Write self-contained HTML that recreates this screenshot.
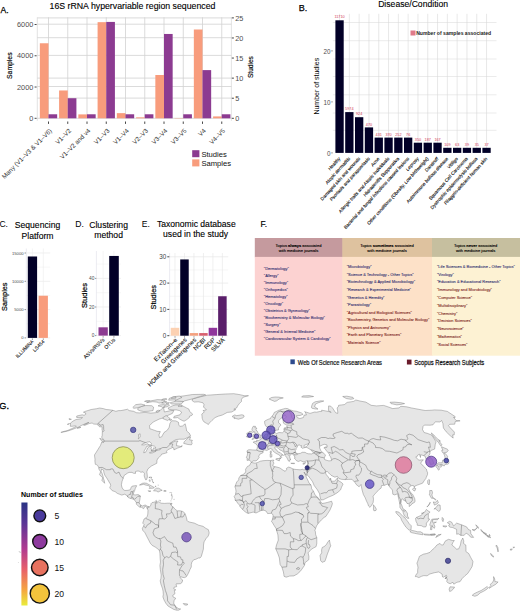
<!DOCTYPE html>
<html><head><meta charset="utf-8"><style>
html,body{margin:0;padding:0;background:#fff;}
svg{display:block;font-family:"Liberation Sans", sans-serif;}
</style></head><body>
<svg width="520" height="611" viewBox="0 0 520 611">
<rect width="520" height="611" fill="#fff"/>
<text x="0.60" y="12.90" font-size="8.6" fill="#000" text-anchor="start" font-weight="normal" stroke="#000" stroke-width="0.25">A.</text>
<text x="132.50" y="8.90" font-size="8.75" fill="#000" text-anchor="middle" font-weight="normal" stroke="#000" stroke-width="0.12">16S rRNA hypervariable region sequenced</text>
<line x1="37.30" y1="17.90" x2="231.40" y2="17.90" stroke="#d2d2d2" stroke-width="0.8" />
<line x1="37.30" y1="24.20" x2="231.40" y2="24.20" stroke="#d2d2d2" stroke-width="0.8" />
<line x1="37.30" y1="37.70" x2="231.40" y2="37.70" stroke="#d2d2d2" stroke-width="0.8" />
<line x1="37.30" y1="55.40" x2="231.40" y2="55.40" stroke="#d2d2d2" stroke-width="0.8" />
<line x1="37.30" y1="78.10" x2="231.40" y2="78.10" stroke="#d2d2d2" stroke-width="0.8" />
<line x1="37.30" y1="86.50" x2="231.40" y2="86.50" stroke="#d2d2d2" stroke-width="0.8" />
<line x1="37.30" y1="98.10" x2="231.40" y2="98.10" stroke="#d2d2d2" stroke-width="0.8" />
<line x1="37.30" y1="118.30" x2="231.40" y2="118.30" stroke="#d2d2d2" stroke-width="0.8" />
<line x1="48.50" y1="17.30" x2="48.50" y2="118.30" stroke="#d2d2d2" stroke-width="0.8" />
<line x1="67.75" y1="17.30" x2="67.75" y2="118.30" stroke="#d2d2d2" stroke-width="0.8" />
<line x1="87.00" y1="17.30" x2="87.00" y2="118.30" stroke="#d2d2d2" stroke-width="0.8" />
<line x1="106.25" y1="17.30" x2="106.25" y2="118.30" stroke="#d2d2d2" stroke-width="0.8" />
<line x1="125.50" y1="17.30" x2="125.50" y2="118.30" stroke="#d2d2d2" stroke-width="0.8" />
<line x1="144.75" y1="17.30" x2="144.75" y2="118.30" stroke="#d2d2d2" stroke-width="0.8" />
<line x1="164.00" y1="17.30" x2="164.00" y2="118.30" stroke="#d2d2d2" stroke-width="0.8" />
<line x1="183.25" y1="17.30" x2="183.25" y2="118.30" stroke="#d2d2d2" stroke-width="0.8" />
<line x1="202.50" y1="17.30" x2="202.50" y2="118.30" stroke="#d2d2d2" stroke-width="0.8" />
<line x1="221.75" y1="17.30" x2="221.75" y2="118.30" stroke="#d2d2d2" stroke-width="0.8" />
<line x1="37.30" y1="17.30" x2="37.30" y2="120.80" stroke="#cfcfcf" stroke-width="0.6" />
<line x1="231.40" y1="17.30" x2="231.40" y2="120.80" stroke="#cfcfcf" stroke-width="0.6" />
<rect x="39.84" y="43.26" width="8.66" height="75.04" fill="#f89c7c" />
<rect x="48.50" y="114.28" width="8.66" height="4.02" fill="#8c3b91" />
<line x1="48.50" y1="121.50" x2="48.50" y2="123.90" stroke="#333333" stroke-width="0.9" />
<text transform="translate(49.10,127.90) rotate(-45)" x="0" y="4.61" font-size="6.4" fill="#333" text-anchor="end" font-weight="normal" >Many (V1–V3 &amp; V1–V6)</text>
<rect x="59.09" y="90.47" width="8.66" height="27.83" fill="#f89c7c" />
<rect x="67.75" y="98.22" width="8.66" height="20.08" fill="#8c3b91" />
<line x1="67.75" y1="121.50" x2="67.75" y2="123.90" stroke="#333333" stroke-width="0.9" />
<text transform="translate(68.35,127.90) rotate(-45)" x="0" y="4.61" font-size="6.4" fill="#333" text-anchor="end" font-weight="normal" >V1–V2</text>
<rect x="78.34" y="114.39" width="8.66" height="3.91" fill="#f89c7c" />
<rect x="87.00" y="114.28" width="8.66" height="4.02" fill="#8c3b91" />
<line x1="87.00" y1="121.50" x2="87.00" y2="123.90" stroke="#333333" stroke-width="0.9" />
<text transform="translate(87.60,127.90) rotate(-45)" x="0" y="4.61" font-size="6.4" fill="#333" text-anchor="end" font-weight="normal" >V1–V2 and v4</text>
<rect x="97.59" y="22.16" width="8.66" height="96.14" fill="#f89c7c" />
<rect x="106.25" y="21.92" width="8.66" height="96.38" fill="#8c3b91" />
<line x1="106.25" y1="121.50" x2="106.25" y2="123.90" stroke="#333333" stroke-width="0.9" />
<text transform="translate(106.85,127.90) rotate(-45)" x="0" y="4.61" font-size="6.4" fill="#333" text-anchor="end" font-weight="normal" >V1–V3</text>
<rect x="116.84" y="113.14" width="8.66" height="5.16" fill="#f89c7c" />
<rect x="125.50" y="114.28" width="8.66" height="4.02" fill="#8c3b91" />
<line x1="125.50" y1="121.50" x2="125.50" y2="123.90" stroke="#333333" stroke-width="0.9" />
<text transform="translate(126.10,127.90) rotate(-45)" x="0" y="4.61" font-size="6.4" fill="#333" text-anchor="end" font-weight="normal" >V1–V4</text>
<rect x="136.09" y="117.36" width="8.66" height="0.94" fill="#f89c7c" />
<rect x="144.75" y="114.28" width="8.66" height="4.02" fill="#8c3b91" />
<line x1="144.75" y1="121.50" x2="144.75" y2="123.90" stroke="#333333" stroke-width="0.9" />
<text transform="translate(145.35,127.90) rotate(-45)" x="0" y="4.61" font-size="6.4" fill="#333" text-anchor="end" font-weight="normal" >V2–V3</text>
<rect x="155.34" y="75.00" width="8.66" height="43.30" fill="#f89c7c" />
<rect x="164.00" y="33.96" width="8.66" height="84.34" fill="#8c3b91" />
<line x1="164.00" y1="121.50" x2="164.00" y2="123.90" stroke="#333333" stroke-width="0.9" />
<text transform="translate(164.60,127.90) rotate(-45)" x="0" y="4.61" font-size="6.4" fill="#333" text-anchor="end" font-weight="normal" >V3–V4</text>
<rect x="174.59" y="117.99" width="8.66" height="0.31" fill="#f89c7c" />
<rect x="183.25" y="114.28" width="8.66" height="4.02" fill="#8c3b91" />
<line x1="183.25" y1="121.50" x2="183.25" y2="123.90" stroke="#333333" stroke-width="0.9" />
<text transform="translate(183.85,127.90) rotate(-45)" x="0" y="4.61" font-size="6.4" fill="#333" text-anchor="end" font-weight="normal" >V3–V5</text>
<rect x="193.84" y="29.50" width="8.66" height="88.80" fill="#f89c7c" />
<rect x="202.50" y="70.11" width="8.66" height="48.19" fill="#8c3b91" />
<line x1="202.50" y1="121.50" x2="202.50" y2="123.90" stroke="#333333" stroke-width="0.9" />
<text transform="translate(203.10,127.90) rotate(-45)" x="0" y="4.61" font-size="6.4" fill="#333" text-anchor="end" font-weight="normal" >V4</text>
<rect x="213.09" y="116.42" width="8.66" height="1.88" fill="#f89c7c" />
<rect x="221.75" y="114.28" width="8.66" height="4.02" fill="#8c3b91" />
<line x1="221.75" y1="121.50" x2="221.75" y2="123.90" stroke="#333333" stroke-width="0.9" />
<text transform="translate(222.35,127.90) rotate(-45)" x="0" y="4.61" font-size="6.4" fill="#333" text-anchor="end" font-weight="normal" >V4–V5</text>
<text x="33.30" y="120.90" font-size="7.3" fill="#4d4d4d" text-anchor="end" font-weight="normal" >0</text>
<line x1="34.60" y1="118.30" x2="36.60" y2="118.30" stroke="#333333" stroke-width="0.9" />
<text x="33.30" y="89.63" font-size="7.3" fill="#4d4d4d" text-anchor="end" font-weight="normal" >2000</text>
<line x1="34.60" y1="87.03" x2="36.60" y2="87.03" stroke="#333333" stroke-width="0.9" />
<text x="33.30" y="58.37" font-size="7.3" fill="#4d4d4d" text-anchor="end" font-weight="normal" >4000</text>
<line x1="34.60" y1="55.77" x2="36.60" y2="55.77" stroke="#333333" stroke-width="0.9" />
<text x="33.30" y="27.10" font-size="7.3" fill="#4d4d4d" text-anchor="end" font-weight="normal" >6000</text>
<line x1="34.60" y1="24.50" x2="36.60" y2="24.50" stroke="#333333" stroke-width="0.9" />
<text x="235.20" y="120.90" font-size="7.3" fill="#4d4d4d" text-anchor="start" font-weight="normal" >0</text>
<line x1="231.80" y1="118.30" x2="233.90" y2="118.30" stroke="#333333" stroke-width="0.9" />
<text x="235.20" y="100.82" font-size="7.3" fill="#4d4d4d" text-anchor="start" font-weight="normal" >5</text>
<line x1="231.80" y1="98.22" x2="233.90" y2="98.22" stroke="#333333" stroke-width="0.9" />
<text x="235.20" y="80.74" font-size="7.3" fill="#4d4d4d" text-anchor="start" font-weight="normal" >10</text>
<line x1="231.80" y1="78.14" x2="233.90" y2="78.14" stroke="#333333" stroke-width="0.9" />
<text x="235.20" y="60.66" font-size="7.3" fill="#4d4d4d" text-anchor="start" font-weight="normal" >15</text>
<line x1="231.80" y1="58.06" x2="233.90" y2="58.06" stroke="#333333" stroke-width="0.9" />
<text x="235.20" y="40.58" font-size="7.3" fill="#4d4d4d" text-anchor="start" font-weight="normal" >20</text>
<line x1="231.80" y1="37.98" x2="233.90" y2="37.98" stroke="#333333" stroke-width="0.9" />
<text x="235.20" y="20.50" font-size="7.3" fill="#4d4d4d" text-anchor="start" font-weight="normal" >25</text>
<line x1="231.80" y1="17.90" x2="233.90" y2="17.90" stroke="#333333" stroke-width="0.9" />
<text transform="translate(11.6,65.7) rotate(-90)" font-size="6.8" text-anchor="middle" fill="#000" stroke="#000" stroke-width="0.15">Samples</text>
<text transform="translate(252.8,67.1) rotate(-90)" font-size="6.6" text-anchor="middle" fill="#000" stroke="#000" stroke-width="0.15">Studies</text>
<rect x="192.20" y="150.20" width="7.20" height="7.00" fill="#8c3b91" />
<rect x="192.20" y="159.40" width="7.20" height="7.00" fill="#f89c7c" />
<text x="201.40" y="156.60" font-size="7.65" fill="#111" text-anchor="start" font-weight="normal" >Studies</text>
<text x="201.40" y="165.60" font-size="7.65" fill="#111" text-anchor="start" font-weight="normal" >Samples</text>
<text x="298.80" y="10.90" font-size="9.0" fill="#000" text-anchor="start" font-weight="normal" stroke="#000" stroke-width="0.25">B.</text>
<text x="413.10" y="7.20" font-size="8.62" fill="#000" text-anchor="middle" font-weight="normal" stroke="#000" stroke-width="0.12">Disease/Condition</text>
<line x1="332.80" y1="22.50" x2="496.50" y2="22.50" stroke="#dedede" stroke-width="0.6" />
<line x1="332.80" y1="40.70" x2="496.50" y2="40.70" stroke="#dedede" stroke-width="0.6" />
<line x1="332.80" y1="59.00" x2="496.50" y2="59.00" stroke="#dedede" stroke-width="0.6" />
<line x1="332.80" y1="76.50" x2="496.50" y2="76.50" stroke="#dedede" stroke-width="0.6" />
<line x1="332.80" y1="94.80" x2="496.50" y2="94.80" stroke="#dedede" stroke-width="0.6" />
<line x1="332.80" y1="113.00" x2="496.50" y2="113.00" stroke="#dedede" stroke-width="0.6" />
<line x1="332.80" y1="130.30" x2="496.50" y2="130.30" stroke="#dedede" stroke-width="0.6" />
<line x1="339.55" y1="13.80" x2="339.55" y2="152.90" stroke="#d9d9d9" stroke-width="0.6" />
<line x1="349.35" y1="13.80" x2="349.35" y2="152.90" stroke="#d9d9d9" stroke-width="0.6" />
<line x1="359.15" y1="13.80" x2="359.15" y2="152.90" stroke="#d9d9d9" stroke-width="0.6" />
<line x1="368.95" y1="13.80" x2="368.95" y2="152.90" stroke="#d9d9d9" stroke-width="0.6" />
<line x1="378.75" y1="13.80" x2="378.75" y2="152.90" stroke="#d9d9d9" stroke-width="0.6" />
<line x1="388.55" y1="13.80" x2="388.55" y2="152.90" stroke="#d9d9d9" stroke-width="0.6" />
<line x1="398.35" y1="13.80" x2="398.35" y2="152.90" stroke="#d9d9d9" stroke-width="0.6" />
<line x1="408.15" y1="13.80" x2="408.15" y2="152.90" stroke="#d9d9d9" stroke-width="0.6" />
<line x1="417.95" y1="13.80" x2="417.95" y2="152.90" stroke="#d9d9d9" stroke-width="0.6" />
<line x1="427.75" y1="13.80" x2="427.75" y2="152.90" stroke="#d9d9d9" stroke-width="0.6" />
<line x1="437.55" y1="13.80" x2="437.55" y2="152.90" stroke="#d9d9d9" stroke-width="0.6" />
<line x1="447.35" y1="13.80" x2="447.35" y2="152.90" stroke="#d9d9d9" stroke-width="0.6" />
<line x1="457.15" y1="13.80" x2="457.15" y2="152.90" stroke="#d9d9d9" stroke-width="0.6" />
<line x1="466.95" y1="13.80" x2="466.95" y2="152.90" stroke="#d9d9d9" stroke-width="0.6" />
<line x1="476.75" y1="13.80" x2="476.75" y2="152.90" stroke="#d9d9d9" stroke-width="0.6" />
<line x1="486.55" y1="13.80" x2="486.55" y2="152.90" stroke="#d9d9d9" stroke-width="0.6" />
<rect x="335.40" y="20.30" width="8.30" height="132.60" fill="#020027" />
<text x="339.55" y="18.40" font-size="3.8" fill="#d23c5a" text-anchor="middle" font-weight="normal" >11710</text>
<text transform="translate(338.35,156.50) scale(1,1.11) rotate(-45)" x="0" y="3.20" font-size="4.45" fill="#000" text-anchor="end" font-weight="normal" stroke="#000" stroke-width="0.1">Healthy</text>
<rect x="345.20" y="112.10" width="8.30" height="40.80" fill="#020027" />
<text x="349.35" y="110.20" font-size="3.8" fill="#d23c5a" text-anchor="middle" font-weight="normal" >5974</text>
<text transform="translate(348.15,156.50) scale(1,1.11) rotate(-45)" x="0" y="3.20" font-size="4.45" fill="#000" text-anchor="end" font-weight="normal" stroke="#000" stroke-width="0.1">Atopic dermatitis</text>
<rect x="355.00" y="117.20" width="8.30" height="35.70" fill="#020027" />
<text x="359.15" y="115.30" font-size="3.8" fill="#d23c5a" text-anchor="middle" font-weight="normal" >924</text>
<text transform="translate(357.95,156.50) scale(1,1.11) rotate(-45)" x="0" y="3.20" font-size="4.45" fill="#000" text-anchor="end" font-weight="normal" stroke="#000" stroke-width="0.1">Damaged skin and wounds</text>
<rect x="364.80" y="127.40" width="8.30" height="25.50" fill="#020027" />
<text x="368.95" y="125.50" font-size="3.8" fill="#d23c5a" text-anchor="middle" font-weight="normal" >470</text>
<text transform="translate(367.75,156.50) scale(1,1.11) rotate(-45)" x="0" y="3.20" font-size="4.45" fill="#000" text-anchor="end" font-weight="normal" stroke="#000" stroke-width="0.1">Psoriasis and parapsoriasis</text>
<rect x="374.60" y="137.60" width="8.30" height="15.30" fill="#020027" />
<text x="378.75" y="135.70" font-size="3.8" fill="#d23c5a" text-anchor="middle" font-weight="normal" >431</text>
<text transform="translate(377.55,156.50) scale(1,1.11) rotate(-45)" x="0" y="3.20" font-size="4.45" fill="#000" text-anchor="end" font-weight="normal" stroke="#000" stroke-width="0.1">Acne</text>
<rect x="384.40" y="137.60" width="8.30" height="15.30" fill="#020027" />
<text x="388.55" y="135.70" font-size="3.8" fill="#d23c5a" text-anchor="middle" font-weight="normal" >370</text>
<text transform="translate(387.35,156.50) scale(1,1.11) rotate(-45)" x="0" y="3.20" font-size="4.45" fill="#000" text-anchor="end" font-weight="normal" stroke="#000" stroke-width="0.1">Allergic traits and Atopic individuals</text>
<rect x="394.20" y="137.60" width="8.30" height="15.30" fill="#020027" />
<text x="398.35" y="135.70" font-size="3.8" fill="#d23c5a" text-anchor="middle" font-weight="normal" >252</text>
<text transform="translate(397.15,156.50) scale(1,1.11) rotate(-45)" x="0" y="3.20" font-size="4.45" fill="#000" text-anchor="end" font-weight="normal" stroke="#000" stroke-width="0.1">Hidradenitis Suppurativa</text>
<rect x="404.00" y="137.60" width="8.30" height="15.30" fill="#020027" />
<text x="408.15" y="135.70" font-size="3.8" fill="#d23c5a" text-anchor="middle" font-weight="normal" >76</text>
<text transform="translate(406.95,156.50) scale(1,1.11) rotate(-45)" x="0" y="3.20" font-size="4.45" fill="#000" text-anchor="end" font-weight="normal" stroke="#000" stroke-width="0.1">Bacterial and fungal infections caused lesions</text>
<rect x="413.80" y="142.70" width="8.30" height="10.20" fill="#020027" />
<text x="417.95" y="140.80" font-size="3.8" fill="#d23c5a" text-anchor="middle" font-weight="normal" >350</text>
<text transform="translate(416.75,156.50) scale(1,1.11) rotate(-45)" x="0" y="3.20" font-size="4.45" fill="#000" text-anchor="end" font-weight="normal" stroke="#000" stroke-width="0.1">Leprosy</text>
<rect x="423.60" y="142.70" width="8.30" height="10.20" fill="#020027" />
<text x="427.75" y="140.80" font-size="3.8" fill="#d23c5a" text-anchor="middle" font-weight="normal" >187</text>
<text transform="translate(426.55,156.50) scale(1,1.11) rotate(-45)" x="0" y="3.20" font-size="4.45" fill="#000" text-anchor="end" font-weight="normal" stroke="#000" stroke-width="0.1">Other conditions (Obesity, Low birthweight)</text>
<rect x="433.40" y="142.70" width="8.30" height="10.20" fill="#020027" />
<text x="437.55" y="140.80" font-size="3.8" fill="#d23c5a" text-anchor="middle" font-weight="normal" >167</text>
<text transform="translate(436.35,156.50) scale(1,1.11) rotate(-45)" x="0" y="3.20" font-size="4.45" fill="#000" text-anchor="end" font-weight="normal" stroke="#000" stroke-width="0.1">Dandruff</text>
<rect x="443.20" y="147.80" width="8.30" height="5.10" fill="#020027" />
<text x="447.35" y="145.90" font-size="3.8" fill="#d23c5a" text-anchor="middle" font-weight="normal" >109</text>
<text transform="translate(446.15,156.50) scale(1,1.11) rotate(-45)" x="0" y="3.20" font-size="4.45" fill="#000" text-anchor="end" font-weight="normal" stroke="#000" stroke-width="0.1">Autoimmune bullous disease</text>
<rect x="453.00" y="147.80" width="8.30" height="5.10" fill="#020027" />
<text x="457.15" y="145.90" font-size="3.8" fill="#d23c5a" text-anchor="middle" font-weight="normal" >63</text>
<text transform="translate(455.95,156.50) scale(1,1.11) rotate(-45)" x="0" y="3.20" font-size="4.45" fill="#000" text-anchor="end" font-weight="normal" stroke="#000" stroke-width="0.1">Vitiligo</text>
<rect x="462.80" y="147.80" width="8.30" height="5.10" fill="#020027" />
<text x="466.95" y="145.90" font-size="3.8" fill="#d23c5a" text-anchor="middle" font-weight="normal" >39</text>
<text transform="translate(465.75,156.50) scale(1,1.11) rotate(-45)" x="0" y="3.20" font-size="4.45" fill="#000" text-anchor="end" font-weight="normal" stroke="#000" stroke-width="0.1">Squamous Cell Carcinoma</text>
<rect x="472.60" y="147.80" width="8.30" height="5.10" fill="#020027" />
<text x="476.75" y="145.90" font-size="3.8" fill="#d23c5a" text-anchor="middle" font-weight="normal" >35</text>
<text transform="translate(475.55,156.50) scale(1,1.11) rotate(-45)" x="0" y="3.20" font-size="4.45" fill="#000" text-anchor="end" font-weight="normal" stroke="#000" stroke-width="0.1">Dystrophic epidermolysis bullosa</text>
<rect x="482.40" y="147.80" width="8.30" height="5.10" fill="#020027" />
<text x="486.55" y="145.90" font-size="3.8" fill="#d23c5a" text-anchor="middle" font-weight="normal" >37</text>
<text transform="translate(485.35,156.50) scale(1,1.11) rotate(-45)" x="0" y="3.20" font-size="4.45" fill="#000" text-anchor="end" font-weight="normal" stroke="#000" stroke-width="0.1">Filaggrin-deficient human skin</text>
<text x="330.60" y="155.70" font-size="6.3" fill="#4d4d4d" text-anchor="end" font-weight="normal" >0</text>
<line x1="331.30" y1="152.90" x2="332.70" y2="152.90" stroke="#333333" stroke-width="0.6" />
<text x="330.60" y="104.70" font-size="6.3" fill="#4d4d4d" text-anchor="end" font-weight="normal" >10</text>
<line x1="331.30" y1="101.90" x2="332.70" y2="101.90" stroke="#333333" stroke-width="0.6" />
<text x="330.60" y="53.70" font-size="6.3" fill="#4d4d4d" text-anchor="end" font-weight="normal" >20</text>
<line x1="331.30" y1="50.90" x2="332.70" y2="50.90" stroke="#333333" stroke-width="0.6" />
<text transform="translate(319.3,86.2) rotate(-90)" font-size="7" text-anchor="middle" fill="#000">Number of studies</text>
<rect x="410.50" y="30.50" width="5.00" height="5.00" fill="#e07a8a" />
<text x="416.20" y="34.80" font-size="5.1" fill="#222" text-anchor="start" font-weight="bold" >Number of samples associated</text>
<text x="-0.60" y="227.30" font-size="8.6" fill="#000" text-anchor="start" font-weight="normal" >C.</text>
<text x="37.50" y="227.60" font-size="8.6" fill="#000" text-anchor="middle" font-weight="normal" stroke="#000" stroke-width="0.12">Sequencing</text>
<text x="37.50" y="238.60" font-size="8.6" fill="#000" text-anchor="middle" font-weight="normal" stroke="#000" stroke-width="0.12">Platform</text>
<line x1="26.30" y1="337.90" x2="50.20" y2="337.90" stroke="#e6e6e6" stroke-width="0.6" />
<line x1="26.30" y1="309.60" x2="50.20" y2="309.60" stroke="#e6e6e6" stroke-width="0.6" />
<line x1="26.30" y1="281.30" x2="50.20" y2="281.30" stroke="#e6e6e6" stroke-width="0.6" />
<line x1="26.30" y1="253.00" x2="50.20" y2="253.00" stroke="#e6e6e6" stroke-width="0.6" />
<line x1="26.30" y1="323.75" x2="50.20" y2="323.75" stroke="#efefef" stroke-width="0.5" />
<line x1="26.30" y1="295.45" x2="50.20" y2="295.45" stroke="#efefef" stroke-width="0.5" />
<line x1="26.30" y1="267.15" x2="50.20" y2="267.15" stroke="#efefef" stroke-width="0.5" />
<line x1="32.40" y1="248.50" x2="32.40" y2="337.90" stroke="#ececec" stroke-width="0.6" />
<line x1="43.30" y1="248.50" x2="43.30" y2="337.90" stroke="#ececec" stroke-width="0.6" />
<line x1="26.30" y1="248.50" x2="26.30" y2="337.90" stroke="#dedee8" stroke-width="0.6" />
<rect x="27.80" y="256.48" width="9.30" height="81.42" fill="#020027" />
<rect x="38.60" y="295.73" width="9.30" height="42.17" fill="#f89c7c" />
<text x="23.60" y="339.40" font-size="4.2" fill="#4d4d4d" text-anchor="end" font-weight="normal" >0</text>
<line x1="24.50" y1="337.90" x2="26.00" y2="337.90" stroke="#333333" stroke-width="0.5" />
<text x="23.60" y="311.10" font-size="4.2" fill="#4d4d4d" text-anchor="end" font-weight="normal" >5000</text>
<line x1="24.50" y1="309.60" x2="26.00" y2="309.60" stroke="#333333" stroke-width="0.5" />
<text x="23.60" y="282.80" font-size="4.2" fill="#4d4d4d" text-anchor="end" font-weight="normal" >10000</text>
<line x1="24.50" y1="281.30" x2="26.00" y2="281.30" stroke="#333333" stroke-width="0.5" />
<text x="23.60" y="254.50" font-size="4.2" fill="#4d4d4d" text-anchor="end" font-weight="normal" >15000</text>
<line x1="24.50" y1="253.00" x2="26.00" y2="253.00" stroke="#333333" stroke-width="0.5" />
<line x1="32.40" y1="338.40" x2="32.40" y2="339.90" stroke="#333333" stroke-width="0.5" />
<text transform="translate(31.50,339.40) rotate(-45)" x="0" y="3.60" font-size="5.0" fill="#111" text-anchor="end" font-weight="normal" stroke="#111" stroke-width="0.08">ILLUMINA</text>
<line x1="43.30" y1="338.40" x2="43.30" y2="339.90" stroke="#333333" stroke-width="0.5" />
<text transform="translate(42.40,339.40) rotate(-45)" x="0" y="3.60" font-size="5.0" fill="#111" text-anchor="end" font-weight="normal" stroke="#111" stroke-width="0.08">LS454</text>
<text transform="translate(7.3,296.7) rotate(-90)" font-size="7.3" text-anchor="middle" fill="#000" stroke="#000" stroke-width="0.2">Samples</text>
<text x="75.30" y="227.30" font-size="8.6" fill="#000" text-anchor="start" font-weight="normal" >D.</text>
<text x="108.60" y="227.60" font-size="8.6" fill="#000" text-anchor="middle" font-weight="normal" stroke="#000" stroke-width="0.12">Clustering</text>
<text x="108.60" y="238.30" font-size="8.6" fill="#000" text-anchor="middle" font-weight="normal" stroke="#000" stroke-width="0.12">method</text>
<line x1="96.40" y1="335.60" x2="121.00" y2="335.60" stroke="#e6e6e6" stroke-width="0.6" />
<line x1="96.40" y1="307.00" x2="121.00" y2="307.00" stroke="#e6e6e6" stroke-width="0.6" />
<line x1="96.40" y1="278.40" x2="121.00" y2="278.40" stroke="#e6e6e6" stroke-width="0.6" />
<line x1="96.40" y1="321.30" x2="121.00" y2="321.30" stroke="#efefef" stroke-width="0.5" />
<line x1="96.40" y1="292.70" x2="121.00" y2="292.70" stroke="#efefef" stroke-width="0.5" />
<line x1="96.40" y1="264.10" x2="121.00" y2="264.10" stroke="#efefef" stroke-width="0.5" />
<line x1="103.10" y1="251.00" x2="103.10" y2="335.60" stroke="#ececec" stroke-width="0.6" />
<line x1="113.90" y1="251.00" x2="113.90" y2="335.60" stroke="#ececec" stroke-width="0.6" />
<line x1="96.40" y1="251.00" x2="96.40" y2="335.60" stroke="#dedee8" stroke-width="0.6" />
<rect x="98.50" y="327.31" width="9.30" height="8.29" fill="#8c3b91" />
<rect x="109.20" y="255.95" width="9.60" height="79.65" fill="#020027" />
<text x="94.40" y="337.30" font-size="4.8" fill="#4d4d4d" text-anchor="end" font-weight="normal" >0</text>
<line x1="95.00" y1="335.60" x2="96.30" y2="335.60" stroke="#333333" stroke-width="0.5" />
<text x="94.40" y="308.70" font-size="4.8" fill="#4d4d4d" text-anchor="end" font-weight="normal" >20</text>
<line x1="95.00" y1="307.00" x2="96.30" y2="307.00" stroke="#333333" stroke-width="0.5" />
<text x="94.40" y="280.10" font-size="4.8" fill="#4d4d4d" text-anchor="end" font-weight="normal" >40</text>
<line x1="95.00" y1="278.40" x2="96.30" y2="278.40" stroke="#333333" stroke-width="0.5" />
<line x1="103.10" y1="336.10" x2="103.10" y2="337.60" stroke="#333333" stroke-width="0.5" />
<text transform="translate(102.20,337.50) rotate(-45)" x="0" y="3.67" font-size="5.1" fill="#111" text-anchor="end" font-weight="normal" stroke="#111" stroke-width="0.08">ASVs/RSVs</text>
<line x1="113.90" y1="336.10" x2="113.90" y2="337.60" stroke="#333333" stroke-width="0.5" />
<text transform="translate(113.00,337.50) rotate(-45)" x="0" y="3.67" font-size="5.1" fill="#111" text-anchor="end" font-weight="normal" stroke="#111" stroke-width="0.08">OTUs</text>
<text transform="translate(86.5,295.5) rotate(-90)" font-size="7.5" text-anchor="middle" fill="#000" stroke="#000" stroke-width="0.2">Studies</text>
<text x="141.80" y="226.80" font-size="8.6" fill="#000" text-anchor="start" font-weight="normal" >E.</text>
<text x="196.30" y="226.80" font-size="8.6" fill="#000" text-anchor="middle" font-weight="normal" stroke="#000" stroke-width="0.12">Taxonomic database</text>
<text x="195.60" y="237.40" font-size="8.6" fill="#000" text-anchor="middle" font-weight="normal" stroke="#000" stroke-width="0.12">used in the study</text>
<line x1="169.60" y1="335.70" x2="228.20" y2="335.70" stroke="#e2e2e2" stroke-width="0.6" />
<line x1="169.60" y1="309.40" x2="228.20" y2="309.40" stroke="#e2e2e2" stroke-width="0.6" />
<line x1="169.60" y1="283.10" x2="228.20" y2="283.10" stroke="#e2e2e2" stroke-width="0.6" />
<line x1="169.60" y1="256.80" x2="228.20" y2="256.80" stroke="#e2e2e2" stroke-width="0.6" />
<line x1="169.60" y1="322.55" x2="228.20" y2="322.55" stroke="#ececec" stroke-width="0.5" />
<line x1="169.60" y1="296.25" x2="228.20" y2="296.25" stroke="#ececec" stroke-width="0.5" />
<line x1="169.60" y1="269.95" x2="228.20" y2="269.95" stroke="#ececec" stroke-width="0.5" />
<line x1="175.00" y1="253.00" x2="175.00" y2="335.70" stroke="#e6e6e6" stroke-width="0.6" />
<line x1="184.48" y1="253.00" x2="184.48" y2="335.70" stroke="#e6e6e6" stroke-width="0.6" />
<line x1="193.96" y1="253.00" x2="193.96" y2="335.70" stroke="#e6e6e6" stroke-width="0.6" />
<line x1="203.44" y1="253.00" x2="203.44" y2="335.70" stroke="#e6e6e6" stroke-width="0.6" />
<line x1="212.92" y1="253.00" x2="212.92" y2="335.70" stroke="#e6e6e6" stroke-width="0.6" />
<line x1="222.40" y1="253.00" x2="222.40" y2="335.70" stroke="#e6e6e6" stroke-width="0.6" />
<line x1="169.60" y1="253.00" x2="169.60" y2="335.70" stroke="#dedee8" stroke-width="0.6" />
<rect x="170.75" y="327.81" width="8.50" height="7.89" fill="#fcd1b2" />
<line x1="175.00" y1="336.20" x2="175.00" y2="337.70" stroke="#333333" stroke-width="0.5" />
<text transform="translate(174.50,337.30) rotate(-45)" x="0" y="4.39" font-size="6.1" fill="#111" text-anchor="end" font-weight="normal" stroke="#111" stroke-width="0.08">EzTaxon–e</text>
<rect x="180.23" y="259.43" width="8.50" height="76.27" fill="#020027" />
<line x1="184.48" y1="336.20" x2="184.48" y2="337.70" stroke="#333333" stroke-width="0.5" />
<text transform="translate(183.98,337.30) rotate(-45)" x="0" y="4.39" font-size="6.1" fill="#111" text-anchor="end" font-weight="normal" stroke="#111" stroke-width="0.08">Greengenes</text>
<rect x="189.71" y="333.07" width="8.50" height="2.63" fill="#f4a07e" />
<line x1="193.96" y1="336.20" x2="193.96" y2="337.70" stroke="#333333" stroke-width="0.5" />
<text transform="translate(193.46,337.30) rotate(-45)" x="0" y="4.39" font-size="6.1" fill="#111" text-anchor="end" font-weight="normal" stroke="#111" stroke-width="0.08">HOMD and Greengenes</text>
<rect x="199.19" y="333.07" width="8.50" height="2.63" fill="#d8606e" />
<line x1="203.44" y1="336.20" x2="203.44" y2="337.70" stroke="#333333" stroke-width="0.5" />
<text transform="translate(202.94,337.30) rotate(-45)" x="0" y="4.39" font-size="6.1" fill="#111" text-anchor="end" font-weight="normal" stroke="#111" stroke-width="0.08">NCBI</text>
<rect x="208.67" y="327.81" width="8.50" height="7.89" fill="#90369c" />
<line x1="212.92" y1="336.20" x2="212.92" y2="337.70" stroke="#333333" stroke-width="0.5" />
<text transform="translate(212.42,337.30) rotate(-45)" x="0" y="4.39" font-size="6.1" fill="#111" text-anchor="end" font-weight="normal" stroke="#111" stroke-width="0.08">RDP</text>
<rect x="218.15" y="296.25" width="8.50" height="39.45" fill="#5a1e6a" />
<line x1="222.40" y1="336.20" x2="222.40" y2="337.70" stroke="#333333" stroke-width="0.5" />
<text transform="translate(221.90,337.30) rotate(-45)" x="0" y="4.39" font-size="6.1" fill="#111" text-anchor="end" font-weight="normal" stroke="#111" stroke-width="0.08">SILVA</text>
<text x="166.30" y="337.90" font-size="6.3" fill="#444" text-anchor="end" font-weight="normal" >0</text>
<line x1="167.30" y1="335.70" x2="169.30" y2="335.70" stroke="#333333" stroke-width="0.9" />
<text x="166.30" y="311.60" font-size="6.3" fill="#444" text-anchor="end" font-weight="normal" >10</text>
<line x1="167.30" y1="309.40" x2="169.30" y2="309.40" stroke="#333333" stroke-width="0.9" />
<text x="166.30" y="285.30" font-size="6.3" fill="#444" text-anchor="end" font-weight="normal" >20</text>
<line x1="167.30" y1="283.10" x2="169.30" y2="283.10" stroke="#333333" stroke-width="0.9" />
<text x="166.30" y="259.00" font-size="6.3" fill="#444" text-anchor="end" font-weight="normal" >30</text>
<line x1="167.30" y1="256.80" x2="169.30" y2="256.80" stroke="#333333" stroke-width="0.9" />
<text transform="translate(156.4,297.3) rotate(-90)" font-size="7.3" text-anchor="middle" fill="#000" stroke="#000" stroke-width="0.2">Studies</text>
<text x="260.60" y="226.60" font-size="8.4" fill="#000" text-anchor="start" font-weight="normal" stroke="#000" stroke-width="0.2">F.</text>
<rect x="254.80" y="238.00" width="88.10" height="19.20" fill="#c59a9e" />
<rect x="254.80" y="256.90" width="88.10" height="98.80" fill="#fcd2d1" />
<rect x="342.30" y="238.00" width="90.30" height="19.20" fill="#dec29f" />
<rect x="342.30" y="256.90" width="90.30" height="98.80" fill="#fde1c8" />
<rect x="432.00" y="238.00" width="88.60" height="19.20" fill="#c6bf9f" />
<rect x="432.00" y="256.90" width="88.60" height="98.80" fill="#fdf2d3" />
<text x="298.5" y="247.3" font-size="4.0" text-anchor="middle" fill="#000" stroke="#000" stroke-width="0.12">Topics <tspan font-weight="bold">always</tspan> associated</text>
<text x="298.5" y="252.2" font-size="4.0" text-anchor="middle" fill="#000" stroke="#000" stroke-width="0.12">with medicine journals</text>
<text x="387.0" y="247.3" font-size="4.0" text-anchor="middle" fill="#000" stroke="#000" stroke-width="0.12">Topics <tspan font-weight="bold">sometimes</tspan> associated</text>
<text x="387.0" y="252.2" font-size="4.0" text-anchor="middle" fill="#000" stroke="#000" stroke-width="0.12">with medicine journals</text>
<text x="475.6" y="247.3" font-size="4.0" text-anchor="middle" fill="#000" stroke="#000" stroke-width="0.12">Topics <tspan font-weight="bold">never</tspan> associated</text>
<text x="475.6" y="252.2" font-size="4.0" text-anchor="middle" fill="#000" stroke="#000" stroke-width="0.12">with medicine journals</text>
<text x="263.80" y="269.50" font-size="3.95" fill="#2b2a6e" text-anchor="start" font-weight="normal" stroke="#2b2a6e" stroke-width="0.08">"Dermatology"</text>
<text x="263.80" y="276.50" font-size="3.95" fill="#2b2a6e" text-anchor="start" font-weight="normal" stroke="#2b2a6e" stroke-width="0.08">"Allergy"</text>
<text x="263.80" y="283.50" font-size="3.95" fill="#2b2a6e" text-anchor="start" font-weight="normal" stroke="#2b2a6e" stroke-width="0.08">"Immunology"</text>
<text x="263.80" y="290.50" font-size="3.95" fill="#2b2a6e" text-anchor="start" font-weight="normal" stroke="#2b2a6e" stroke-width="0.08">"Orthopedics"</text>
<text x="263.80" y="297.50" font-size="3.95" fill="#2b2a6e" text-anchor="start" font-weight="normal" stroke="#2b2a6e" stroke-width="0.08">"Hematology"</text>
<text x="263.80" y="304.50" font-size="3.95" fill="#2b2a6e" text-anchor="start" font-weight="normal" stroke="#2b2a6e" stroke-width="0.08">"Oncology"</text>
<text x="263.80" y="311.50" font-size="3.95" fill="#2b2a6e" text-anchor="start" font-weight="normal" stroke="#2b2a6e" stroke-width="0.08">"Obstetrics &amp; Gynecology"</text>
<text x="263.80" y="318.50" font-size="3.95" fill="#2b2a6e" text-anchor="start" font-weight="normal" stroke="#2b2a6e" stroke-width="0.08">"Biochemistry &amp; Molecular Biology"</text>
<text x="263.80" y="325.50" font-size="3.95" fill="#2b2a6e" text-anchor="start" font-weight="normal" stroke="#2b2a6e" stroke-width="0.08">"Surgery"</text>
<text x="263.80" y="332.50" font-size="3.95" fill="#2b2a6e" text-anchor="start" font-weight="normal" stroke="#2b2a6e" stroke-width="0.08">"General &amp; Internal Medicine"</text>
<text x="263.80" y="339.50" font-size="3.95" fill="#2b2a6e" text-anchor="start" font-weight="normal" stroke="#2b2a6e" stroke-width="0.08">"Cardiovascular System &amp; Cardiology"</text>
<text x="346.70" y="268.30" font-size="3.95" fill="#2b2a6e" text-anchor="start" font-weight="normal" stroke="#2b2a6e" stroke-width="0.08">"Microbiology"</text>
<text x="346.70" y="275.86" font-size="3.95" fill="#2b2a6e" text-anchor="start" font-weight="normal" stroke="#2b2a6e" stroke-width="0.08">"Science &amp; Technology - Other Topics"</text>
<text x="346.70" y="283.42" font-size="3.95" fill="#2b2a6e" text-anchor="start" font-weight="normal" stroke="#2b2a6e" stroke-width="0.08">"Biotechnology &amp; Applied Microbiology"</text>
<text x="346.70" y="290.98" font-size="3.95" fill="#2b2a6e" text-anchor="start" font-weight="normal" stroke="#2b2a6e" stroke-width="0.08">"Research &amp; Experimental Medicine"</text>
<text x="346.70" y="298.54" font-size="3.95" fill="#2b2a6e" text-anchor="start" font-weight="normal" stroke="#2b2a6e" stroke-width="0.08">"Genetics &amp; Heredity"</text>
<text x="346.70" y="306.10" font-size="3.95" fill="#2b2a6e" text-anchor="start" font-weight="normal" stroke="#2b2a6e" stroke-width="0.08">"Parasitology"</text>
<text x="346.70" y="313.66" font-size="3.95" fill="#7b1c1c" text-anchor="start" font-weight="normal" stroke="#7b1c1c" stroke-width="0.08">"Agricultural and Biological Sciences"</text>
<text x="346.70" y="321.22" font-size="3.95" fill="#7b1c1c" text-anchor="start" font-weight="normal" stroke="#7b1c1c" stroke-width="0.08">"Biochemistry, Genetics and Molecular Biology"</text>
<text x="346.70" y="328.78" font-size="3.95" fill="#7b1c1c" text-anchor="start" font-weight="normal" stroke="#7b1c1c" stroke-width="0.08">"Physics and Astronomy"</text>
<text x="346.70" y="336.34" font-size="3.95" fill="#7b1c1c" text-anchor="start" font-weight="normal" stroke="#7b1c1c" stroke-width="0.08">"Earth and Planetary Sciences"</text>
<text x="346.70" y="343.90" font-size="3.95" fill="#7b1c1c" text-anchor="start" font-weight="normal" stroke="#7b1c1c" stroke-width="0.08">"Materials Science"</text>
<text x="436.90" y="267.70" font-size="3.95" fill="#2b2a6e" text-anchor="start" font-weight="normal" stroke="#2b2a6e" stroke-width="0.08">"Life Sciences &amp; Biomedicine - Other Topics"</text>
<text x="436.90" y="275.50" font-size="3.95" fill="#2b2a6e" text-anchor="start" font-weight="normal" stroke="#2b2a6e" stroke-width="0.08">"Virology"</text>
<text x="436.90" y="283.30" font-size="3.95" fill="#2b2a6e" text-anchor="start" font-weight="normal" stroke="#2b2a6e" stroke-width="0.08">"Education &amp; Educational Research"</text>
<text x="436.90" y="291.10" font-size="3.95" fill="#7b1c1c" text-anchor="start" font-weight="normal" stroke="#7b1c1c" stroke-width="0.08">"Immunology and Microbiology"</text>
<text x="436.90" y="298.90" font-size="3.95" fill="#7b1c1c" text-anchor="start" font-weight="normal" stroke="#7b1c1c" stroke-width="0.08">"Computer Science"</text>
<text x="436.90" y="306.70" font-size="3.95" fill="#7b1c1c" text-anchor="start" font-weight="normal" stroke="#7b1c1c" stroke-width="0.08">"Multidisciplinary"</text>
<text x="436.90" y="314.50" font-size="3.95" fill="#7b1c1c" text-anchor="start" font-weight="normal" stroke="#7b1c1c" stroke-width="0.08">"Chemistry"</text>
<text x="436.90" y="322.30" font-size="3.95" fill="#7b1c1c" text-anchor="start" font-weight="normal" stroke="#7b1c1c" stroke-width="0.08">"Decision Sciences"</text>
<text x="436.90" y="330.10" font-size="3.95" fill="#7b1c1c" text-anchor="start" font-weight="normal" stroke="#7b1c1c" stroke-width="0.08">"Neuroscience"</text>
<text x="436.90" y="337.90" font-size="3.95" fill="#7b1c1c" text-anchor="start" font-weight="normal" stroke="#7b1c1c" stroke-width="0.08">"Mathematics"</text>
<text x="436.90" y="345.70" font-size="3.95" fill="#7b1c1c" text-anchor="start" font-weight="normal" stroke="#7b1c1c" stroke-width="0.08">"Social Sciences"</text>
<rect x="290.40" y="359.40" width="4.40" height="4.80" fill="#2e4b8e" />
<rect x="406.90" y="359.60" width="4.60" height="4.90" fill="#6a1b2b" />
<text x="297.8" y="364.8" font-size="7.0" fill="#1a1a1a" stroke="#1a1a1a" stroke-width="0.25" transform="translate(297.8,0) scale(0.825,1) translate(-297.8,0)">Web Of Science Research Areas</text>
<text x="414.2" y="364.8" font-size="7.0" fill="#1a1a1a" stroke="#1a1a1a" stroke-width="0.25" transform="translate(414.2,0) scale(0.835,1) translate(-414.2,0)">Scopus Research Subjects</text>
<text x="-0.70" y="409.40" font-size="9.2" fill="#000" text-anchor="start" font-weight="normal" stroke="#000" stroke-width="0.3">G.</text>
<g fill="#e6e6e6" stroke="#585858" stroke-width="0.35" stroke-linejoin="round">
<path d="M60.9,432.4L64.4,431.3L67.8,430.4L72.3,428.4L76.4,426.3L75.1,425.8L72.3,426.3L70.3,426.3L70.5,424.2L70.5,423.0L73.5,420.8L76.0,419.5L80.6,418.9L82.5,417.6L80.0,417.6L76.7,417.5L76.7,416.0L82.2,414.8L84.1,415.3L85.8,414.2L85.5,412.9L83.4,412.2L85.1,411.4L91.2,409.5L96.5,408.7L99.7,408.0L103.7,408.7L106.1,409.5L109.4,409.8L112.8,410.3L115.8,411.3L118.7,410.6L120.8,410.6L126.0,409.6L127.5,409.2L129.1,410.6L133.6,411.3L136.4,412.7L139.3,412.9L145.1,412.4L150.8,413.1L155.4,412.7L158.1,412.0L163.5,407.5L164.0,409.9L164.4,412.0L170.7,410.6L173.9,410.5L172.4,413.4L168.4,415.2L163.8,417.9L161.9,418.3L159.2,419.1L153.2,422.0L149.5,425.7L149.6,426.0L149.8,428.7L154.2,430.2L157.2,431.3L160.3,431.6L158.9,434.9L159.5,437.5L161.6,436.9L164.0,432.5L167.3,430.2L169.2,427.2L169.9,423.5L171.7,420.7L175.8,420.9L178.5,422.3L178.8,424.9L179.8,426.4L182.4,426.0L185.2,423.8L186.2,428.0L186.7,431.0L189.4,433.3L190.6,436.1L188.0,437.4L184.2,439.2L179.3,439.2L176.0,439.6L173.7,440.8L169.4,443.8L171.7,442.7L175.5,441.0L178.0,441.1L176.7,442.9L176.5,445.6L179.5,446.2L180.7,446.5L182.2,445.6L182.0,446.5L177.6,448.1L173.9,449.9L173.8,448.1L172.7,447.5L170.4,448.6L167.8,449.7L166.5,451.3L167.1,452.6L165.0,453.3L161.6,454.2L161.1,455.2L159.2,457.3L158.2,458.0L157.0,460.1L156.8,463.3L154.4,464.5L151.3,466.1L147.9,468.9L146.8,471.8L147.2,474.4L147.4,477.0L146.6,479.6L145.6,479.8L144.9,478.1L144.2,475.9L144.4,473.4L143.1,471.8L140.9,472.3L139.1,471.1L137.0,471.1L135.5,471.6L135.5,473.4L133.7,473.3L131.9,472.4L129.1,472.4L127.6,473.1L124.2,475.4L123.1,478.3L122.0,481.6L121.4,484.8L121.9,487.2L123.1,489.4L124.8,490.5L128.1,490.3L130.3,489.7L131.3,487.1L132.2,486.1L136.5,485.6L136.7,485.9L135.4,488.1L134.7,490.5L133.9,492.1L133.2,494.7L135.3,494.9L138.2,494.6L140.3,495.9L139.9,499.5L139.2,502.7L139.8,504.3L142.3,506.0L145.2,505.0L148.0,506.6L148.7,507.1L147.3,508.9L146.7,507.1L145.1,506.1L143.6,508.7L141.5,507.3L139.2,506.8L136.4,504.3L136.3,502.4L134.1,499.6L132.1,498.8L128.6,497.8L126.7,495.4L124.7,494.2L121.8,495.1L119.1,494.1L117.2,493.3L115.1,491.6L112.4,490.8L110.0,488.2L109.8,487.4L110.7,485.6L110.4,484.0L109.6,482.9L107.9,479.9L106.4,477.5L104.8,475.2L103.9,472.6L103.6,470.2L101.6,469.0L101.1,471.3L102.2,473.7L103.1,476.7L103.6,478.8L104.4,481.2L104.6,483.3L103.6,482.2L101.9,480.4L102.7,477.6L100.4,475.7L99.5,474.6L100.6,471.8L98.8,469.0L98.8,467.7L97.8,465.6L96.4,464.6L95.3,464.3L94.9,461.1L95.0,459.1L94.6,456.3L94.5,454.9L96.2,452.3L98.2,449.1L100.5,445.4L101.7,442.1L103.6,442.4L104.7,441.1L104.0,440.0L103.0,438.8L101.6,437.2L102.2,435.6L102.3,432.5L102.4,431.0L102.0,429.5L102.1,426.7L99.6,426.9L98.6,425.5L96.5,424.2L93.8,424.1L92.1,423.0L89.3,423.5L85.1,425.2L83.6,425.2L88.8,422.4L84.8,423.9L81.3,425.5L78.9,426.9L74.3,428.7L70.3,430.2L66.8,431.3L63.8,431.9Z"/>
<path d="M148.1,506.6L149.0,506.6L148.9,507.6L150.9,505.1L151.0,503.7L152.1,502.5L154.2,502.2L156.3,500.4L157.1,501.4L156.6,502.7L156.6,503.4L157.5,502.7L158.7,501.7L161.0,503.2L164.6,503.4L167.5,503.2L169.6,503.2L170.5,503.2L171.6,506.0L173.0,506.8L175.1,509.2L177.2,510.8L180.1,510.8L182.9,511.5L185.0,513.4L186.4,517.4L187.1,520.6L187.8,521.4L190.0,522.2L194.3,523.1L198.6,525.2L203.0,526.3L205.9,528.4L208.3,529.6L209.1,532.3L209.0,533.8L208.2,536.1L206.1,538.5L204.1,541.8L203.5,545.0L203.4,549.1L202.5,552.3L201.3,556.4L200.0,558.0L198.3,558.0L195.9,559.3L193.8,559.7L191.9,562.1L191.3,564.5L191.3,567.0L190.0,569.4L189.0,571.9L187.4,575.1L186.3,576.8L184.6,577.6L182.8,577.4L180.3,576.6L179.8,576.8L181.9,579.7L182.6,580.0L182.1,582.4L180.4,583.7L176.4,583.9L176.0,584.1L176.7,586.6L174.0,587.3L173.8,588.9L175.9,589.9L174.3,590.5L175.0,593.7L172.8,595.3L173.0,596.9L175.7,598.2L174.1,600.6L173.8,602.5L173.9,604.2L175.1,605.3L176.0,607.1L178.8,608.7L180.7,609.0L178.5,610.2L176.5,610.2L173.8,609.4L171.2,607.9L168.0,606.0L165.8,603.2L164.1,600.1L162.9,596.9L163.3,594.5L163.1,591.3L162.5,588.6L160.9,584.1L160.2,580.8L160.9,578.4L161.2,575.1L160.3,569.4L159.9,565.4L160.5,562.1L160.2,558.9L159.9,553.2L159.5,550.6L157.6,548.8L155.3,547.1L152.3,545.5L150.2,543.1L148.7,540.1L146.6,536.1L145.0,532.8L142.8,530.4L142.3,528.3L143.6,526.1L144.2,524.7L142.7,523.1L143.6,520.6L144.0,519.0L145.6,518.2L147.2,516.4L147.8,514.1L148.0,510.0L147.3,508.9Z"/>
<path d="M251.0,462.4L255.1,463.2L257.6,462.5L260.3,461.2L263.0,460.7L267.1,460.4L270.6,460.6L272.8,460.1L273.9,460.2L273.1,461.4L273.9,463.2L272.9,465.0L272.7,465.6L274.3,466.6L277.0,467.1L279.8,467.9L283.1,470.2L285.2,471.3L286.6,469.5L286.4,468.4L288.5,467.1L290.4,467.6L291.9,468.4L293.6,469.2L296.5,469.5L300.1,469.8L302.8,469.3L303.4,469.7L306.0,469.7L307.2,472.6L306.6,475.4L305.6,474.6L304.0,472.0L304.2,472.3L305.7,475.2L306.4,477.3L308.3,481.2L309.0,483.0L310.9,484.8L311.5,487.2L311.6,488.7L313.5,491.3L315.2,495.2L317.7,497.3L319.9,499.9L320.7,501.7L321.9,503.5L324.1,503.2L327.6,502.4L331.6,501.2L332.4,503.7L331.7,506.0L330.0,510.0L327.9,513.3L325.8,516.5L324.1,517.4L321.5,519.8L320.1,521.3L317.9,523.9L316.6,525.8L316.0,527.3L314.9,530.4L315.4,531.7L315.6,534.4L316.8,537.7L316.8,543.4L316.1,546.6L311.5,549.1L308.1,552.8L308.9,556.4L308.8,559.7L304.9,562.8L304.5,565.4L301.8,569.3L300.2,571.4L297.3,574.0L293.8,575.9L289.6,576.1L286.1,577.2L284.0,576.3L283.8,574.3L283.4,571.9L281.9,567.2L280.1,564.5L280.0,563.9L279.4,558.0L278.0,554.0L275.7,548.6L276.5,545.0L278.3,540.1L277.9,534.9L276.6,530.5L276.2,528.7L274.1,525.5L272.2,522.2L271.5,521.6L272.6,519.0L273.1,515.7L272.6,514.1L271.2,513.3L267.6,513.6L266.2,511.2L263.9,510.2L261.1,510.5L258.7,511.7L256.0,513.0L253.2,512.1L248.2,513.4L246.1,512.5L243.5,510.4L240.1,506.8L239.5,505.1L237.5,503.0L236.7,501.4L235.2,500.3L235.0,498.2L234.1,496.7L235.5,494.6L236.0,491.3L235.7,488.9L234.9,486.8L235.8,484.3L236.7,482.0L238.7,479.9L238.8,478.1L240.6,475.5L243.0,474.6L245.2,472.8L245.8,471.1L245.5,469.3L246.4,468.0L247.4,466.4L248.6,465.9L249.7,465.3L250.6,463.3Z"/>
<path d="M329.4,540.1L330.4,545.0L330.8,545.8L329.5,548.3L329.0,549.9L327.4,554.0L325.8,558.9L324.9,561.3L322.1,562.3L320.6,560.5L320.4,558.0L320.0,555.6L321.7,552.8L321.6,549.9L322.2,547.5L324.8,546.2L326.6,544.2L327.4,542.6Z"/>
<path d="M251.4,462.0L250.5,461.2L249.1,460.1L247.0,460.4L247.2,458.0L246.3,457.5L247.2,455.5L247.6,453.1L247.3,452.0L246.9,450.9L248.2,449.9L249.9,449.7L252.5,449.9L255.1,450.1L256.6,450.1L257.2,448.3L257.5,445.9L256.2,444.0L253.1,442.2L254.6,441.4L257.0,441.6L256.6,440.0L258.7,440.7L259.2,440.0L261.0,439.2L261.3,438.0L262.7,437.5L263.9,436.6L264.7,435.0L266.3,434.1L267.5,434.1L269.3,433.9L269.5,432.5L268.8,431.0L268.6,429.3L269.1,428.6L271.4,427.7L271.4,428.4L271.1,429.9L273.9,430.2L273.8,431.8L272.2,432.5L272.3,433.3L273.6,433.0L275.3,432.7L276.6,433.5L278.9,432.5L281.4,432.7L282.6,432.7L283.6,431.9L284.1,430.5L283.8,429.0L284.4,428.0L286.1,428.7L287.4,428.7L287.4,426.7L286.3,426.1L287.5,425.1L291.3,424.9L293.7,424.3L292.2,423.9L289.8,423.5L287.6,423.9L285.4,424.5L283.5,423.2L283.2,421.2L283.0,419.6L284.9,418.3L286.7,416.9L285.2,415.7L282.9,416.2L282.0,417.6L280.1,419.1L278.6,420.5L278.5,422.7L280.2,423.9L280.8,425.2L279.7,426.4L278.5,428.0L278.6,429.9L276.2,430.2L274.5,430.9L273.8,429.5L272.9,427.7L272.0,425.7L271.2,424.3L270.6,425.7L268.3,427.1L266.6,426.9L265.5,425.7L264.7,423.5L264.6,421.2L266.3,420.2L268.4,419.2L270.5,418.5L271.0,417.2L272.0,416.2L273.5,414.3L274.3,412.4L276.3,411.5L278.7,410.3L281.1,409.6L285.3,408.4L287.6,408.6L290.0,409.9L293.4,410.9L296.6,411.3L301.4,412.9L303.1,414.3L300.1,415.5L296.4,415.7L297.2,417.6L299.9,418.5L303.4,417.5L304.2,415.0L306.4,415.0L305.4,412.4L304.6,411.7L308.1,412.7L310.0,413.4L314.7,412.0L316.4,412.2L319.7,411.5L321.8,411.4L321.6,410.2L325.6,410.9L329.3,411.7L331.2,412.4L328.4,410.6L328.5,407.9L328.6,405.9L330.8,406.2L332.5,407.9L335.6,412.7L337.7,413.4L337.8,412.0L337.1,407.9L338.3,406.8L338.6,405.3L341.7,404.9L344.4,404.6L347.1,402.4L353.6,401.4L355.8,400.0L360.8,401.2L365.8,402.1L371.2,405.3L376.4,405.9L383.7,405.4L389.0,407.2L392.7,408.6L399.0,407.9L400.8,406.3L406.6,406.8L411.2,407.9L425.1,410.5L431.9,410.2L434.6,409.9L441.2,410.2L447.3,411.4L455.2,416.6L455.0,417.6L453.5,417.3L456.2,420.5L460.1,420.8L455.3,421.5L454.7,424.2L449.7,424.3L448.5,425.7L450.0,427.5L454.4,432.1L454.2,434.9L452.6,434.9L453.2,438.1L450.1,435.6L446.2,431.8L443.4,428.0L442.9,423.5L441.6,420.5L440.0,422.0L435.3,421.8L433.0,424.8L430.0,425.2L424.3,425.1L423.1,426.4L422.5,429.5L424.1,432.5L427.2,433.3L431.6,435.0L433.7,438.0L436.1,441.9L435.3,444.3L434.6,449.1L430.8,450.5L430.0,451.8L429.9,453.9L428.7,455.9L432.6,459.9L433.9,463.5L432.1,464.3L430.5,464.5L429.3,461.2L428.7,459.6L426.8,459.3L425.7,458.5L425.1,456.2L423.8,455.7L420.6,454.7L420.5,457.5L419.4,454.2L417.7,455.1L416.7,457.0L415.7,457.2L418.5,459.8L419.4,460.1L423.4,459.8L421.3,462.0L420.8,463.3L423.3,466.1L426.3,469.0L426.7,470.3L427.2,471.8L427.6,472.6L427.5,474.6L426.2,477.5L426.0,478.3L424.2,480.7L422.6,483.2L419.6,484.3L417.3,485.1L414.7,486.1L414.5,487.6L413.5,485.6L411.8,485.5L409.4,486.8L408.6,488.9L409.9,491.3L411.7,493.8L412.7,494.4L414.7,498.6L415.1,501.1L414.5,502.4L412.0,503.7L411.4,504.8L409.1,506.6L409.3,504.7L408.3,503.7L407.0,503.4L406.0,501.4L404.9,500.8L403.0,499.8L402.3,498.6L401.5,499.5L400.9,503.5L401.9,505.6L403.0,508.9L404.3,509.5L405.6,510.5L407.5,513.3L407.5,516.1L408.9,518.3L407.9,518.5L404.5,516.1L403.5,513.8L402.9,511.5L399.9,507.4L399.9,504.3L399.2,501.1L397.6,493.8L394.6,494.9L392.8,494.2L392.4,490.0L389.9,487.2L388.8,485.6L387.6,484.0L386.3,484.6L384.3,485.3L381.5,485.6L381.1,488.1L379.2,489.4L376.7,492.1L374.8,494.1L373.1,496.2L373.5,499.3L373.1,502.7L372.4,503.8L371.0,506.1L370.0,507.4L368.6,506.1L367.7,503.5L366.5,501.1L365.2,497.8L363.4,494.6L362.0,489.7L361.3,486.1L361.0,484.5L359.1,486.8L356.0,484.3L355.1,482.4L352.7,480.3L351.9,479.3L348.4,479.4L345.1,479.6L341.4,479.3L339.0,478.6L337.3,476.3L334.9,477.2L331.2,475.4L328.9,473.1L327.3,471.6L325.2,471.8L326.0,474.2L328.0,476.7L329.2,478.3L330.1,480.3L330.6,478.1L331.3,481.2L334.7,481.2L336.5,479.1L337.6,477.8L337.8,480.3L341.1,482.2L343.1,484.0L341.5,487.2L340.7,489.7L339.0,491.3L337.0,492.9L333.2,495.2L328.8,497.0L323.2,499.8L320.9,499.9L319.9,496.2L319.6,493.8L317.3,489.7L314.2,485.6L312.5,481.6L310.7,479.1L308.3,475.9L307.0,474.9L307.4,472.6L307.0,470.2L306.1,469.5L306.7,468.4L306.8,467.2L307.3,465.4L307.6,463.2L307.6,461.1L306.1,460.9L304.8,461.7L303.2,461.9L300.7,460.7L300.1,460.6L298.8,461.5L296.7,460.9L295.6,459.6L294.4,458.1L295.0,458.0L294.6,456.3L293.7,455.5L294.0,454.6L293.3,454.2L291.3,454.1L290.3,454.9L289.9,455.5L289.2,454.6L288.9,455.5L289.8,456.8L289.9,458.5L291.0,459.3L289.8,459.8L289.8,461.2L289.2,461.4L288.2,460.7L287.7,459.4L287.2,458.3L286.6,457.3L285.8,456.2L284.7,455.1L284.6,453.1L283.9,452.3L281.8,450.7L279.8,449.9L278.4,448.3L276.6,447.3L276.6,446.5L274.8,446.9L275.0,448.8L276.5,449.7L278.0,452.0L280.1,452.5L281.3,453.8L283.5,455.4L281.7,454.9L281.0,456.3L281.8,457.2L281.0,458.3L280.0,458.8L280.1,457.6L280.5,456.3L279.8,455.5L278.5,454.6L277.7,454.2L276.1,453.4L275.0,452.6L273.4,451.5L272.7,450.4L272.2,449.3L270.5,448.5L268.7,449.4L268.5,449.6L266.8,450.5L266.0,450.2L264.8,449.9L263.2,450.4L263.0,451.7L263.2,452.5L261.9,453.3L260.2,453.9L259.0,455.7L258.6,456.3L259.3,457.5L258.3,458.3L257.9,459.4L256.0,460.9L253.1,460.9L251.8,461.9Z"/>
<path d="M251.9,439.4L253.8,438.9L254.6,438.6L257.1,438.5L260.6,437.8L260.8,436.4L261.1,435.3L259.4,434.9L259.0,433.9L257.8,432.5L257.1,430.9L256.0,430.2L255.9,429.8L256.9,428.0L254.9,427.7L255.5,426.3L253.2,426.3L252.3,428.0L251.9,429.5L252.4,431.0L253.2,431.8L253.0,432.1L254.9,431.9L254.8,432.9L255.3,434.1L253.4,434.4L253.7,435.6L252.5,436.7L254.1,437.0L255.3,437.2L253.8,437.7L252.1,439.1Z"/>
<path d="M251.6,436.1L251.4,434.4L251.7,433.3L252.4,432.4L251.4,431.5L250.0,431.3L248.8,431.9L248.4,432.9L246.9,433.0L246.9,434.2L247.6,435.5L246.3,436.3L246.9,437.2L248.5,437.0L250.4,436.4Z"/>
<path d="M234.1,418.6L235.8,418.5L238.4,419.2L242.5,418.0L244.2,416.7L243.4,415.0L241.3,414.8L239.0,415.3L236.3,415.6L234.8,414.9L232.4,416.2L232.8,417.2L234.9,417.2Z"/>
<path d="M269.1,399.0L271.5,397.5L275.0,397.0L278.6,397.1L283.3,397.9L279.1,399.0L276.8,400.8L274.6,401.4L271.0,399.9Z"/>
<path d="M311.9,408.2L315.3,409.0L318.0,409.1L314.6,406.6L315.5,404.0L318.5,402.7L323.8,401.0L320.9,400.8L315.1,401.8L312.7,403.3L311.9,405.3L311.4,407.2Z"/>
<path d="M346.2,398.5L350.9,399.3L353.8,398.7L352.8,397.3L346.8,396.2L342.7,396.5Z"/>
<path d="M390.0,402.3L394.4,402.1L401.4,402.8L404.6,403.6L400.9,404.4L396.8,404.9L391.0,403.6Z"/>
<path d="M301.7,397.1L308.1,397.3L313.6,396.5L309.4,395.6L302.7,395.9Z"/>
<path d="M440.8,445.9L442.1,444.9L438.8,440.8L440.5,441.1L436.4,438.0L433.8,434.9L431.3,432.9L431.8,434.1L433.9,437.2L438.6,442.7L440.1,445.1Z"/>
<path d="M443.0,453.1L444.3,452.6L446.8,452.3L448.3,450.2L447.2,449.1L441.4,446.7L442.0,448.3L443.0,450.2L441.7,450.4L442.0,451.5Z"/>
<path d="M445.1,453.3L447.6,456.3L447.3,458.3L448.5,460.4L449.0,462.5L448.5,463.8L447.4,464.3L445.0,464.3L444.9,464.8L444.1,466.1L442.7,464.8L439.7,464.6L437.2,465.3L436.9,464.5L438.2,462.8L442.2,462.8L442.7,460.1L444.8,459.8L445.2,458.0L444.5,455.5L443.7,453.6Z"/>
<path d="M436.0,465.6L437.4,465.6L439.0,466.9L439.4,469.5L438.5,470.2L437.3,468.2L435.9,466.6Z"/>
<path d="M439.6,466.1L440.4,464.8L442.0,465.0L442.3,465.8L441.5,466.3L440.7,467.4Z"/>
<path d="M428.8,479.4L429.6,479.9L429.5,483.2L429.0,485.0L427.7,483.2L427.7,480.7Z"/>
<path d="M412.5,489.4L413.6,487.9L415.8,488.6L415.0,490.8L414.1,491.0Z"/>
<path d="M429.7,490.5L432.0,490.5L432.5,492.9L431.9,494.9L432.8,497.8L435.9,499.5L435.6,500.1L433.6,498.2L431.5,498.3L430.7,497.0L429.2,494.2L429.8,493.8Z"/>
<path d="M433.9,509.2L436.0,507.6L437.9,504.8L440.1,505.1L440.4,509.2L439.8,510.8L438.8,511.5L436.9,510.0L435.0,508.4Z"/>
<path d="M433.3,501.9L435.5,502.4L437.4,500.3L438.4,502.7L436.4,504.3L434.4,505.1Z"/>
<path d="M426.9,506.9L428.6,505.1L430.2,502.2L429.9,503.5L428.0,506.3Z"/>
<path d="M415.6,518.2L416.5,517.4L419.2,516.2L421.3,515.4L422.7,513.1L424.8,512.0L426.4,509.4L427.9,510.8L430.1,512.1L428.4,513.6L428.3,519.0L429.7,519.0L427.9,521.4L426.4,523.1L426.4,525.5L425.6,527.0L423.4,526.8L421.3,525.7L419.5,525.5L417.3,525.3L417.1,523.4L416.0,521.4L415.7,519.8Z"/>
<path d="M395.8,511.5L398.9,512.1L403.1,516.5L404.9,517.8L408.0,521.9L409.2,523.7L411.3,525.8L411.0,530.0L409.1,530.2L405.9,527.1L404.1,524.4L401.6,520.3L400.7,517.7L398.6,515.7L396.0,512.8Z"/>
<path d="M409.9,531.7L411.8,530.4L414.4,530.9L417.5,531.8L420.5,531.8L423.1,533.3L422.9,534.8L418.0,534.0L414.5,533.3L411.7,532.7Z"/>
<path d="M423.8,534.0L429.5,534.4L435.2,534.1L435.2,534.9L429.4,535.3L424.4,534.9Z"/>
<path d="M436.4,537.2L441.2,534.3L438.0,534.8L435.7,537.4Z"/>
<path d="M430.4,529.6L430.8,526.3L429.7,525.0L431.2,520.6L431.8,519.3L433.6,519.0L437.9,518.7L438.9,518.2L437.5,519.8L434.4,519.6L432.6,520.0L432.3,522.2L433.9,522.2L436.4,522.1L433.6,523.5L434.9,526.3L434.4,528.3L432.8,527.1L432.0,525.3L431.8,529.7Z"/>
<path d="M442.2,517.4L443.7,519.0L443.0,521.7L442.0,519.8Z"/>
<path d="M447.3,522.7L449.5,521.3L451.6,522.1L453.6,526.0L456.6,523.1L461.6,524.8L466.5,526.8L468.5,529.6L470.6,530.4L470.8,533.6L473.6,537.4L470.7,537.2L468.8,534.9L466.1,533.1L464.2,535.3L460.9,535.4L458.2,533.8L456.7,534.3L456.6,529.4L452.8,527.6L449.7,527.1L448.6,525.2L450.1,524.4Z"/>
<path d="M472.1,529.6L475.0,529.6L477.3,527.4L476.5,528.7L474.2,530.9Z"/>
<path d="M482.0,531.2L484.7,534.0L488.8,536.1L490.7,537.7L487.3,536.6Z"/>
<path d="M416.9,563.2L417.7,561.3L419.4,556.4L419.7,556.1L423.6,554.1L426.4,553.6L430.0,552.3L432.1,549.9L434.2,548.3L436.9,545.0L440.0,543.4L441.4,545.0L443.3,544.9L445.0,541.3L445.7,540.8L448.5,539.3L452.5,540.5L454.3,540.5L452.9,542.6L451.8,545.0L454.3,547.0L456.5,549.1L458.7,548.9L460.4,545.0L461.1,541.0L462.8,538.0L463.8,541.0L463.5,543.4L465.8,545.0L466.0,549.1L465.9,551.5L468.8,553.6L470.6,557.2L473.0,561.6L472.1,566.5L469.9,570.2L467.7,573.5L464.9,575.8L462.0,578.7L460.1,581.6L456.9,582.3L453.8,584.2L452.9,582.3L450.2,583.7L448.0,582.9L446.7,581.6L447.4,578.9L445.7,578.5L447.1,576.8L445.1,578.9L446.4,575.3L443.4,577.2L442.5,576.9L442.1,574.0L439.9,572.7L438.9,571.9L434.5,572.7L429.8,574.0L427.1,575.8L423.8,575.6L421.5,576.3L418.9,577.6L418.8,577.6L416.4,576.6L415.3,576.6L415.8,575.1L417.6,572.7L417.7,569.4L418.0,567.8L417.7,565.7Z"/>
<path d="M450.0,586.8L454.6,587.1L453.2,589.2L451.4,590.8L449.7,591.5L449.1,589.2Z"/>
<path d="M493.6,576.6L494.7,578.9L494.9,581.5L498.1,582.0L495.6,584.4L492.5,586.2L489.3,588.3L488.9,587.6L491.0,585.5L490.2,584.4L492.6,582.4L493.7,580.0Z"/>
<path d="M487.2,586.5L488.3,587.8L486.6,589.4L483.5,591.3L480.2,592.9L477.7,595.2L474.9,596.3L472.2,595.3L474.1,593.7L477.4,592.1L481.2,590.5L484.1,588.6Z"/>
<path d="M373.3,504.7L375.0,506.8L376.4,509.2L375.9,510.5L373.9,510.8L373.4,509.2L373.5,506.8Z"/>
<path d="M139.5,485.0L142.4,483.3L144.5,483.0L146.6,483.3L149.9,485.1L152.4,486.4L154.4,487.7L153.1,488.2L149.2,488.4L150.1,487.1L148.4,485.6L145.7,485.1L143.7,484.3L140.1,485.1Z"/>
<path d="M153.5,490.7L156.2,488.2L158.7,488.2L160.7,489.4L162.2,490.3L160.6,490.8L158.1,492.0L156.3,491.0L153.9,490.8Z"/>
<path d="M148.1,490.7L150.9,491.0L150.2,491.5L148.8,491.5Z"/>
<path d="M163.9,490.5L166.1,490.7L166.1,491.3L163.8,491.3Z"/>
<path d="M183.7,443.4L187.9,444.5L191.4,444.8L192.2,443.4L191.6,441.9L192.4,440.3L189.6,439.9L190.5,437.0L188.6,437.4L184.1,441.9Z"/>
<path d="M103.5,442.1L101.9,441.3L99.7,438.3L101.1,438.8L103.2,439.6Z"/>
<path d="M275.6,459.1L276.8,458.5L279.8,458.5L279.3,460.9L278.2,460.4L275.9,459.4Z"/>
<path d="M270.2,457.2L270.1,454.1L271.1,453.6L271.9,454.7L271.8,457.0L270.8,457.2Z"/>
<path d="M270.3,453.3L270.2,451.5L271.2,450.7L271.4,452.3L271.1,453.3Z"/>
<path d="M290.8,463.2L294.6,463.2L294.4,463.7L291.5,463.5Z"/>
<path d="M302.8,464.1L303.0,463.5L305.7,462.5L304.9,463.7L303.8,464.3Z"/>
<path d="M192.3,399.0L200.5,396.8L207.2,395.2L216.2,394.6L225.2,394.0L233.8,393.7L240.1,394.7L244.2,395.7L248.5,395.7L242.9,397.3L241.4,399.6L241.5,401.4L239.6,403.3L237.6,405.9L236.7,407.9L233.8,409.2L235.8,409.6L231.7,412.0L227.3,412.4L222.4,415.0L218.3,416.2L215.1,417.6L211.9,420.5L209.4,423.0L208.4,424.5L206.5,423.3L204.1,422.0L203.0,420.5L202.2,418.3L202.0,416.2L201.8,414.1L204.4,411.8L202.9,410.6L206.3,409.9L205.4,408.6L203.5,407.2L204.0,404.6L202.8,402.7L198.2,401.8L194.2,402.1L192.1,400.6Z"/>
<path d="M179.3,405.0L183.2,406.2L186.5,407.9L189.0,409.2L189.5,411.3L192.7,414.1L191.7,415.5L189.5,416.2L189.3,417.6L186.5,419.8L184.1,421.2L182.2,420.5L179.7,419.1L177.7,417.6L173.6,418.0L174.3,416.2L180.0,414.8L181.6,412.2L179.5,410.6L176.3,409.9L172.2,409.9L168.6,409.2L168.2,407.9L172.8,405.7L175.8,404.9Z"/>
<path d="M138.3,407.9L141.8,406.2L146.0,405.5L151.8,405.7L153.6,407.2L153.0,410.6L148.2,411.3L143.8,411.5L140.3,410.9L137.8,409.8L137.7,408.8Z"/>
<path d="M132.8,407.4L135.8,404.6L141.0,404.0L145.0,405.1L141.3,406.6L136.8,407.9L133.8,408.3Z"/>
<path d="M183.0,401.8L174.8,401.4L176.6,399.0L177.1,396.8L185.0,395.7L192.4,394.5L203.8,394.3L205.7,394.9L198.8,396.8L193.6,398.5L188.6,399.9L184.8,400.8Z"/>
<path d="M181.0,404.0L171.3,404.0L170.1,402.7L176.1,401.1L183.3,401.4L182.6,402.7Z"/>
<path d="M163.2,418.8L167.7,420.5L170.0,418.6L168.3,416.9L166.1,415.5L162.9,417.6Z"/>
<path d="M161.3,406.6L158.0,405.9L160.1,404.9L163.8,404.6L166.6,405.3L164.7,407.2L162.5,407.5Z"/>
<path d="M146.6,402.7L152.7,401.7L157.8,402.2L158.6,403.1L163.1,402.6L165.3,401.4L163.6,399.9L157.4,399.6L150.0,401.0Z"/>
<path d="M168.7,400.2L176.5,399.9L181.9,397.5L179.3,396.0L173.1,396.8L169.1,398.5Z"/>
<path d="M69.0,418.6L71.4,419.3L69.3,419.6Z"/>
<path d="M77.2,428.3L80.0,427.8L80.9,427.2L79.0,427.4Z"/>
<path d="M496.4,545.0L496.9,545.8L497.9,547.5L498.4,551.2L497.9,551.9L497.2,548.0L495.9,546.0Z"/>
<path d="M490.5,553.5L492.3,554.8L493.8,556.9L493.1,557.1L491.2,555.3Z"/>
<path d="M510.4,549.1L512.3,548.9L511.5,550.2L510.3,550.1Z"/>
<path d="M512.9,547.3L514.6,547.0L513.8,548.0Z"/>
<path d="M475.7,524.8L477.6,526.3L478.7,528.1L478.2,528.4L477.0,527.0Z"/>
<path d="M480.9,529.4L482.6,531.4L482.0,531.7L481.0,530.2Z"/>
<path d="M483.4,532.0L486.8,534.0L486.3,534.4L483.3,532.8Z"/>
<path d="M487.5,535.6L489.1,536.6L488.7,536.9L487.4,536.2Z"/>
<path d="M489.4,534.3L490.2,536.2L489.7,536.2Z"/>
<path d="M442.9,525.8L446.9,526.1L445.7,527.0L443.1,526.5Z"/>
<path d="M430.6,534.4L435.1,534.0L434.9,534.8L430.9,535.1Z"/>
<path d="M183.2,603.5L185.4,603.7L187.7,604.0L187.2,605.1L184.7,605.1Z"/>
<path d="M148.9,477.2L150.4,477.3L150.0,477.6L149.0,477.5Z"/>
<path d="M151.1,476.8L151.6,477.8L151.2,478.5L151.1,477.6Z"/>
<path d="M149.7,479.6L150.2,480.6L149.9,481.6L149.2,480.7Z"/>
<path d="M151.8,479.1L152.5,479.9L152.3,480.6L152.0,479.8Z"/>
<path d="M152.5,481.4L153.4,483.0L153.7,482.9L152.9,481.6Z"/>
<path d="M155.1,486.1L156.1,486.3L155.8,486.6L155.2,486.5Z"/>
<path d="M157.8,485.0L158.3,485.1L158.0,485.3Z"/>
<path d="M171.1,494.2L171.6,493.8L172.1,494.2L171.6,494.7Z"/>
<path d="M171.4,495.5L171.8,495.1L172.0,495.5L171.7,496.0Z"/>
<path d="M171.8,496.8L172.2,496.4L172.4,496.8L172.1,497.2Z"/>
<path d="M171.9,498.0L172.1,497.7L172.3,498.0L172.1,498.3Z"/>
<path d="M173.8,499.2L174.1,499.0L174.3,499.2L174.0,499.5Z"/>
<path d="M170.7,500.9L170.9,500.7L171.0,500.9L170.9,501.2Z"/>
<path d="M171.5,499.0L171.6,498.8L171.8,499.0L171.6,499.3Z"/>
<path d="M169.8,492.6L170.1,492.4L170.3,492.6L170.0,492.9Z"/>
<path d="M171.1,492.8L171.3,492.5L171.5,492.8L171.3,493.0Z"/>
<path d="M170.4,504.2L171.8,503.0L171.9,504.2L170.8,504.3Z"/>
<path d="M158.9,500.3L159.2,500.0L159.5,500.3L159.2,500.5Z"/>
<path d="M160.1,500.8L160.5,500.5L160.8,500.8L160.4,501.0Z"/>
<path d="M163.7,407.2L167.1,406.8L169.5,405.3L168.3,404.5L165.5,404.9Z"/>
<path d="M155.8,411.5L158.1,412.0L159.9,410.5L158.0,410.2Z"/>
<path d="M161.7,403.0L164.1,403.3L166.8,401.8L164.4,401.4Z"/>
<path d="M165.8,403.6L168.6,403.7L169.3,402.6L166.8,402.7Z"/>
<path d="M178.1,406.3L182.0,406.4L182.0,405.1L179.6,405.0Z"/>
<path d="M144.5,401.4L148.7,401.8L149.7,400.5L146.3,400.6Z"/>
<path d="M161.6,400.0L166.7,399.6L166.4,398.5L163.0,398.9Z"/>
<path d="M169.7,419.1L171.7,419.5L170.5,420.5L169.2,419.9Z"/>
<path d="M171.3,398.5L175.9,398.1L176.0,396.9L172.6,397.1Z"/>
<path d="M67.7,423.9L69.6,423.6L68.8,424.3L67.5,424.5Z"/>
</g>
<g fill="none" stroke="#585858" stroke-width="0.42" stroke-linejoin="round"><path d="M112.8,410.3L97.6,423.8L99.6,424.1L99.9,425.4L103.1,424.5L103.6,426.4L103.7,429.5L104.1,430.4L102.6,432.2"/><path d="M104.3,441.1L139.4,441.1L139.7,440.5L145.3,442.6L150.9,445.1L153.0,447.0L151.4,450.7L155.9,451.0L156.1,450.4L160.0,448.9L162.8,447.5L166.9,447.5L169.7,444.8L171.1,443.7L172.8,444.1L172.0,446.4L172.7,447.5"/><path d="M98.8,467.7L102.2,467.4L106.5,469.7L110.3,469.7L110.6,468.9L112.9,468.9L114.6,472.4L116.4,473.4L119.0,472.1L120.7,475.9L123.3,478.5"/><path d="M127.7,497.0L127.8,495.7L129.1,494.4L130.5,494.4L130.9,491.6L132.7,491.6L134.0,490.5"/><path d="M132.7,491.6L132.2,494.7"/><path d="M132.2,494.7L131.7,497.2L130.5,498.3"/><path d="M131.7,497.2L133.6,498.0L133.8,499.0"/><path d="M134.4,499.5L136.4,497.8L138.0,496.2L140.6,496.2"/><path d="M136.5,502.5L138.9,502.7L139.3,502.9"/><path d="M140.2,507.4L140.7,505.1"/><path d="M157.1,501.4L155.3,502.7L155.4,506.8L155.2,508.6L158.6,509.2L162.1,510.5L161.6,513.3L162.3,517.4L162.8,518.7"/><path d="M173.0,506.8L170.9,511.0L171.9,512.1"/><path d="M171.9,512.1L169.2,513.9L166.4,513.9L167.0,516.9L164.8,519.1L162.8,518.7"/><path d="M162.8,518.7L159.1,518.8L158.7,521.4L158.6,527.4"/><path d="M158.6,527.4L154.3,528.9L153.0,532.7L154.2,535.9L155.5,536.9L158.1,538.5L159.5,538.5"/><path d="M159.5,538.5L160.8,538.7L164.5,536.6L165.6,538.3L167.6,541.0L171.3,542.6L172.8,543.1L173.6,547.1L176.0,547.1L176.8,549.1L177.5,551.5"/><path d="M177.5,551.5L177.7,556.6L180.5,556.9L181.3,559.7L182.9,559.8L182.7,562.3"/><path d="M182.7,562.3L183.9,562.4L184.2,563.4L181.9,565.9L179.5,569.8"/><path d="M179.5,569.8L181.9,570.9L183.0,570.9L186.2,575.5"/><path d="M171.9,512.1L173.0,513.9L174.9,518.5L177.8,517.5L180.7,516.9L183.0,517.0L184.9,513.8"/><path d="M177.1,511.0L177.8,517.5"/><path d="M181.5,511.3L180.7,516.9"/><path d="M143.6,526.1L145.6,527.9L146.5,526.3L147.6,524.7L150.5,523.1L150.9,520.8"/><path d="M145.6,518.3L147.6,519.3L150.9,520.8"/><path d="M150.9,520.8L153.3,522.6L155.5,524.5L158.3,525.0L158.6,527.4"/><path d="M159.5,538.5L160.9,541.0L160.4,545.0L160.9,547.5L160.4,549.1L159.3,550.5"/><path d="M160.4,549.1L162.1,551.5L162.9,555.3L164.6,557.7"/><path d="M164.6,557.7L166.8,556.6L168.6,557.7L170.6,556.4"/><path d="M170.6,556.4L171.8,552.5L175.4,552.0L176.8,552.8L177.5,551.5"/><path d="M164.6,557.7L163.2,560.5L163.5,564.5L162.7,569.4L163.0,574.3L164.2,578.4L163.4,580.8L164.3,585.7L165.4,590.5L166.6,593.7L167.4,596.9L167.6,600.9L168.9,602.5L170.6,604.8L174.3,605.1L175.0,605.7L176.6,609.3"/><path d="M170.6,556.4L173.4,558.9L178.0,562.1L177.5,565.0L181.1,565.0L182.7,562.3"/><path d="M179.5,569.8L179.4,573.5L179.5,575.9"/><path d="M256.6,463.5L256.7,465.3L257.3,468.4L255.0,468.5L254.0,469.2L252.1,471.0L246.9,473.9L246.9,475.5"/><path d="M240.6,475.5L246.9,475.5L246.8,478.3L242.2,478.3L242.1,482.5L240.6,483.5L240.7,485.9L235.0,485.9"/><path d="M246.9,476.2L252.3,479.9"/><path d="M252.3,479.9L249.9,480.1L251.2,493.8L242.8,495.5L241.6,496.9"/><path d="M241.6,496.9L238.7,493.6L235.5,494.2"/><path d="M252.3,479.9L260.7,486.4L263.7,488.4L264.9,489.5"/><path d="M264.9,489.5L267.0,488.7L275.7,482.4"/><path d="M275.7,482.4L273.0,480.7L273.0,479.1L272.1,478.0L272.8,475.9L272.5,472.6L273.2,471.5L272.1,471.3"/><path d="M272.1,471.3L270.3,465.3L270.3,462.4L270.6,460.6"/><path d="M274.7,466.6L273.1,469.0L272.1,471.3"/><path d="M275.7,482.4L277.9,482.9L280.1,483.2"/><path d="M280.1,483.2L292.9,488.9L292.9,488.1L294.3,488.1L294.2,484.8"/><path d="M294.2,484.8L293.5,471.8L292.9,469.5L293.6,469.2"/><path d="M294.2,484.8L310.9,484.8"/><path d="M292.9,488.9L293.1,495.1L291.1,497.8L290.4,500.3L291.7,502.9"/><path d="M291.7,502.9L294.8,504.0L297.6,505.0L301.2,504.7L303.4,504.7L306.2,503.5L307.6,504.3"/><path d="M307.6,504.3L309.2,500.3L311.0,497.3L311.5,492.9L313.5,491.3"/><path d="M311.0,497.3L313.8,497.0L316.7,497.0L319.5,500.3"/><path d="M318.8,502.7L320.2,502.9L322.0,506.0L327.6,507.6L323.6,512.5L321.5,513.8L319.2,514.1"/><path d="M320.2,501.9L320.9,502.7"/><path d="M319.2,514.1L317.9,514.3L317.9,523.4"/><path d="M319.2,514.1L317.1,513.6L310.7,513.3L309.7,512.5L307.8,513.3"/><path d="M307.6,504.3L308.3,506.8L306.6,507.1L306.3,507.9L309.2,511.7L307.8,513.3"/><path d="M307.8,513.3L307.7,518.2L307.9,522.2"/><path d="M307.9,522.2L313.0,525.5L315.3,528.3"/><path d="M302.1,522.2L307.7,522.2"/><path d="M300.7,523.1L301.5,527.8L302.7,534.0L306.1,535.9L307.6,537.7"/><path d="M307.6,537.7L311.1,539.7L314.0,538.8L316.8,537.7"/><path d="M264.9,489.5L265.0,493.9L264.0,495.5L259.3,496.4"/><path d="M259.3,496.4L256.1,497.5L254.3,499.0L252.6,501.1L251.3,503.7"/><path d="M251.3,503.7L254.0,504.5L255.1,505.3L254.8,512.3"/><path d="M251.3,503.7L249.0,504.0L247.1,502.7L246.8,505.1L248.2,506.9L246.8,508.2L248.2,513.4"/><path d="M242.8,495.5L242.4,500.4L241.6,500.4L239.4,499.9"/><path d="M235.1,500.4L239.4,499.9L242.9,501.1L243.7,502.7L245.7,500.6L246.8,502.2"/><path d="M242.4,500.4L243.7,502.7L244.4,504.7L243.8,507.3L242.5,509.4"/><path d="M239.9,505.8L241.5,504.3L243.5,504.7"/><path d="M254.8,502.7L259.0,502.7L259.7,502.9"/><path d="M259.0,502.7L259.6,507.6L259.9,510.7"/><path d="M261.6,510.5L261.3,506.0L260.4,502.7L262.4,501.2L264.1,501.6"/><path d="M262.9,510.2L263.0,505.6L264.1,501.6"/><path d="M259.3,496.4L260.7,498.8L262.3,500.4L264.1,501.6"/><path d="M264.1,501.6L264.7,498.6L268.3,498.6L272.5,499.8L276.8,499.3L279.0,498.6"/><path d="M280.1,483.2L281.4,487.4L281.0,494.6L279.0,498.6"/><path d="M279.0,498.6L279.7,501.1L281.2,504.3L279.0,505.1L281.2,508.4"/><path d="M281.2,508.4L285.5,506.3L289.8,505.1L291.7,502.9"/><path d="M271.3,513.1L272.6,510.0L275.5,509.2L276.9,506.8L278.3,503.5L279.7,501.1"/><path d="M281.2,508.4L279.8,512.5L280.5,515.7L282.3,517.0"/><path d="M273.1,516.9L275.2,517.0L278.1,517.0L282.3,517.0"/><path d="M275.2,517.0L275.2,519.0L272.4,519.0"/><path d="M282.3,517.0L285.7,514.9L291.3,513.8L295.6,512.0L298.5,512.5L303.1,514.9"/><path d="M298.5,512.5L300.6,513.6L303.1,514.9L303.8,517.0L301.5,519.0"/><path d="M282.3,517.0L284.6,522.2L282.7,525.5L279.1,527.9L276.6,528.9L276.6,530.5"/><path d="M276.5,530.4L277.9,530.2L282.5,530.4L284.1,533.6L286.9,533.6L290.2,532.5L290.5,536.1L293.3,538.5L293.9,541.8"/><path d="M301.5,519.0L301.5,522.9L300.7,525.2L301.1,527.8L301.2,530.7L302.7,534.0L299.8,534.4L299.9,538.5L301.3,540.5L298.3,540.6L296.1,539.3L293.3,538.5"/><path d="M293.9,541.8L290.4,541.8L290.2,547.0L292.2,549.3L294.8,549.6"/><path d="M275.7,548.8L278.8,548.9L285.2,548.9L288.7,549.9L292.2,549.3"/><path d="M288.7,549.9L288.5,556.4L287.1,556.4L287.0,561.0L286.7,566.8L281.9,567.2"/><path d="M287.0,561.0L289.7,562.1L294.6,562.4L296.9,558.9L300.3,556.7L303.0,557.1"/><path d="M294.8,549.6L297.2,549.7L300.1,546.5L302.2,546.0L305.7,547.8L305.3,552.3L304.1,555.6L303.0,557.1"/><path d="M303.0,557.1L303.6,561.3L303.6,564.2L304.8,564.2"/><path d="M302.2,546.0L302.0,544.9L306.3,543.4L306.1,541.0L306.9,538.2L307.6,537.7"/><path d="M308.6,540.1L308.1,544.2L309.4,544.5L310.0,546.6L308.9,548.4L307.3,547.5L306.3,543.4"/><path d="M301.3,540.5L303.3,538.5L306.1,535.9"/><path d="M296.3,568.8L299.1,569.4L299.7,568.3L298.1,567.3L296.3,568.8"/><path d="M256.6,450.1L259.0,451.2L261.0,451.5L263.2,451.7"/><path d="M249.8,452.3L248.2,452.3L247.3,452.2"/><path d="M247.3,452.2L250.5,452.8L250.0,453.9L249.7,455.2L249.7,457.2L248.9,459.6L249.1,460.1"/><path d="M262.1,437.8L264.2,439.6L265.3,440.3L266.8,440.3L269.3,441.1L268.6,443.4L266.8,445.6L268.0,446.2L267.6,447.5L268.1,448.8L268.7,449.4"/><path d="M263.1,437.4L266.4,437.2L266.7,438.3L266.5,439.4L266.8,440.3"/><path d="M266.4,437.2L267.3,436.1L267.6,434.4"/><path d="M268.6,443.4L271.2,443.5L272.2,443.8L275.5,443.5L275.4,441.9L274.2,439.1L277.3,438.1L276.4,434.9"/><path d="M271.2,443.5L272.4,445.1L274.3,444.8L276.5,445.1"/><path d="M268.0,446.2L269.8,445.3L272.4,445.1"/><path d="M269.4,431.9L270.9,432.1"/><path d="M275.4,441.9L280.3,441.8L280.7,442.7L280.1,445.1"/><path d="M277.3,438.1L279.2,438.5L282.5,440.3L287.2,441.0"/><path d="M280.3,441.8L282.5,440.3"/><path d="M280.7,442.7L282.8,443.0L286.7,442.1L287.2,441.0"/><path d="M276.5,445.1L278.3,446.7L280.1,445.1L283.3,446.1L285.8,445.6L286.7,442.1"/><path d="M276.4,434.9L276.3,436.4L277.3,438.1"/><path d="M287.2,441.0L288.8,438.8L287.9,436.4L287.6,433.5L286.5,432.7L284.5,431.5"/><path d="M287.6,433.5L289.8,432.9L290.7,430.7L292.4,429.9"/><path d="M284.0,429.8L287.5,429.8L290.7,430.7"/><path d="M284.4,428.0L287.4,427.4L291.3,428.0L292.4,429.9"/><path d="M291.3,428.0L291.1,425.2"/><path d="M292.4,429.9L296.8,431.8L296.8,434.6L299.1,436.1L303.2,438.9L306.4,439.7L309.0,440.2L309.4,443.0L307.7,444.1"/><path d="M288.0,436.4L291.0,436.6L296.0,437.4L298.1,436.3"/><path d="M286.7,442.1L290.0,442.9L292.6,442.2L294.6,442.4L297.1,445.3L295.2,446.7"/><path d="M292.6,442.2L294.8,444.9L295.2,446.7"/><path d="M285.8,445.6L288.3,448.3L291.4,449.6L295.1,449.1"/><path d="M288.3,451.8L289.1,453.4L293.3,453.4L293.9,452.5L295.7,452.3"/><path d="M284.6,452.6L285.8,451.7L288.3,451.8L288.3,448.3"/><path d="M284.3,452.0L283.7,449.9L283.8,448.3L285.8,445.6"/><path d="M279.2,447.2L280.2,447.2L283.5,447.7"/><path d="M286.1,453.8L287.2,454.1L289.1,453.4"/><path d="M284.7,455.1L286.1,453.8"/><path d="M272.1,416.5L275.0,418.3L272.7,421.2L273.3,423.5L272.7,425.7"/><path d="M275.0,418.3L275.7,415.2L278.0,412.0L280.4,411.1"/><path d="M280.4,411.1L282.6,412.1L284.7,414.3L285.2,415.7"/><path d="M280.4,411.1L283.1,411.7L285.9,411.4L288.4,410.2L289.3,411.3"/><path d="M293.7,424.3L291.9,422.4L294.1,419.9L291.9,417.6L290.8,413.1L288.9,412.0L289.3,411.3L291.1,410.5"/><path d="M293.3,453.4L293.9,452.5L295.7,452.3"/><path d="M307.3,460.6L308.8,461.1L312.8,460.7L315.6,459.9L319.0,460.1L318.4,456.0L316.7,455.2L315.7,453.9L313.6,453.0"/><path d="M315.6,459.9L314.7,464.6L311.9,466.3L309.4,468.0L307.9,467.4"/><path d="M307.6,461.1L308.7,463.7L307.7,464.3"/><path d="M306.9,466.7L308.0,465.6L308.7,465.0"/><path d="M307.6,467.9L307.4,471.8L307.4,472.6"/><path d="M311.9,466.3L309.8,469.3L312.7,468.2L316.7,470.0L320.8,473.1L323.3,473.3L325.3,472.6"/><path d="M319.0,460.1L320.4,462.2L322.0,466.9L324.6,469.3L325.9,471.8"/><path d="M309.7,469.3L307.3,472.8"/><path d="M320.6,493.8L324.8,492.6L326.4,492.9L328.4,490.5L332.5,489.7L334.2,493.4"/><path d="M331.3,481.2L332.0,483.2L336.6,483.7L337.4,484.8L336.6,488.1L332.5,489.7"/><path d="M337.8,480.3L337.2,481.6L336.6,483.7"/><path d="M318.4,456.0L320.9,457.3L323.0,457.5L324.3,458.1"/><path d="M315.7,453.9L318.3,453.9L320.1,453.3L320.1,452.5L322.6,452.6"/><path d="M313.6,453.0L315.9,451.7L320.1,452.5"/><path d="M310.6,449.7L312.3,450.2L315.9,451.7L320.8,453.1"/><path d="M319.7,446.7L319.3,441.1L317.6,439.6L321.4,437.5L325.7,437.5L328.1,438.6L329.9,438.1L332.9,438.6L335.2,438.0L334.0,436.4L333.1,435.8L333.1,434.1L334.2,433.6L337.3,432.5L341.8,431.3L344.9,433.3L347.9,433.3L348.9,434.1L351.4,433.0L352.7,434.4L358.2,438.1L362.4,438.0L365.9,440.0L368.6,441.0"/><path d="M368.6,441.0L371.1,439.2L373.2,438.5L376.9,439.6L380.8,439.9L379.9,436.4L384.9,437.2L391.0,439.1L394.2,440.3L397.6,440.8L401.0,439.2L404.8,439.9"/><path d="M404.8,439.9L406.5,440.3L407.8,438.8L406.6,435.6L409.2,434.1L413.0,435.2L418.1,439.6L423.0,441.3L427.1,442.6L429.2,441.9L429.9,443.5L430.4,447.3L428.5,447.0L429.3,449.9L430.0,451.8"/><path d="M368.6,441.0L373.1,443.0L375.5,445.9L375.6,447.5L379.5,447.7L382.4,448.6L385.6,451.0L389.6,451.3L396.9,453.0L399.6,451.7L403.1,449.6L403.1,447.3L405.5,446.9L406.9,444.8L409.2,444.3L411.9,444.8L408.2,443.0L404.8,439.9"/><path d="M368.6,441.0L367.9,444.0L364.5,444.0L364.7,446.7L362.3,447.3L363.7,452.0L360.5,453.9L358.0,454.7L356.8,456.5L358.9,459.8L359.9,460.4L359.7,462.0L361.8,462.8L365.8,465.3L366.8,467.7L367.8,469.7L370.7,471.5L371.3,471.1L373.8,472.9L377.6,474.7L381.2,475.0L382.6,476.2L383.9,475.0L386.8,475.4L389.0,473.1L391.7,472.8L394.0,474.7L395.6,476.2L396.8,478.5L395.9,481.6L399.0,484.6L401.5,485.6L402.4,484.2L404.1,483.5L406.8,482.7L408.9,483.5L411.1,485.5"/><path d="M362.3,447.3L361.9,450.5L355.5,450.7L351.8,451.3L351.8,453.6L355.3,454.2L354.3,456.5L352.0,456.3L350.4,454.7L350.0,456.3"/><path d="M350.0,456.3L349.9,460.1L352.8,459.6L355.2,460.7L359.2,460.4L359.7,462.0"/><path d="M349.9,460.1L348.2,459.8L345.9,461.2L342.9,463.0L341.2,465.0L342.8,469.5L344.1,470.5L343.2,472.8L346.1,472.6L350.7,472.0L350.7,469.8L354.0,468.7L354.4,466.1L355.8,465.0L354.8,462.0L356.5,460.7L359.2,460.4"/><path d="M343.2,472.8L344.8,474.9L346.4,476.3L347.1,477.3L345.3,479.6"/><path d="M359.7,462.0L359.3,464.8L360.3,466.9L361.4,467.9L361.5,470.2L360.6,472.6L358.7,475.2L356.4,475.0L355.9,476.7L357.0,478.8L358.4,480.9L355.4,481.1L354.6,482.0"/><path d="M331.3,459.9L333.2,458.8L335.2,458.5L338.4,459.8L340.4,461.1L341.7,462.7L342.9,463.0"/><path d="M328.5,452.3L332.7,453.4L335.4,451.3L337.6,452.3L339.3,453.6L341.7,455.5L344.2,457.2L347.4,459.1L348.2,459.8"/><path d="M331.1,447.5L332.7,453.4"/><path d="M325.0,447.0L327.1,447.0"/><path d="M334.2,446.5L337.9,448.5L339.6,449.9L343.2,449.6L345.5,452.3L349.3,454.1L351.8,453.6"/><path d="M331.1,447.5L334.2,446.5"/><path d="M381.8,477.5L381.3,475.2"/><path d="M369.9,473.7L371.3,471.1"/><path d="M369.9,473.7L373.0,475.2L375.8,476.0L378.6,477.3L381.8,477.5"/><path d="M381.8,477.5L383.4,479.4L382.3,480.6L383.8,484.8L384.3,485.3"/><path d="M384.4,478.0L387.8,479.8L387.7,482.7L389.0,485.6"/><path d="M389.0,485.6L389.8,483.5L389.9,481.6L391.3,479.8L391.8,477.2L394.0,474.7"/><path d="M382.6,476.2L384.1,477.2L387.1,476.8L386.8,475.4"/><path d="M395.9,481.6L398.1,484.8L400.2,487.4L400.9,487.9"/><path d="M399.9,504.3L400.5,501.9L400.5,499.5L398.9,496.7L398.7,494.6L396.9,490.5L397.7,488.6L400.2,487.4"/><path d="M400.2,487.4L401.7,488.9L402.5,492.1L404.2,491.3L407.5,492.3L409.2,495.7L409.3,497.2L405.6,497.5L404.9,498.6L406.0,501.4"/><path d="M401.5,485.6L402.9,487.6L406.0,489.0L408.4,491.0L410.1,492.9L412.0,496.2L412.2,497.8L410.1,498.0L409.3,497.2"/><path d="M409.3,497.2L412.2,497.8L412.4,500.3L410.5,502.7L408.6,503.5"/><path d="M402.7,510.0L404.1,511.3L405.5,510.5"/><path d="M423.8,451.7L426.8,452.3L428.5,451.5L430.0,451.8"/><path d="M423.8,455.7L425.2,454.2L427.1,452.8L427.9,452.0"/><path d="M428.0,459.1L429.3,458.3L430.3,457.8"/><path d="M416.5,517.5L418.5,518.8L420.7,518.2L423.6,518.7L424.9,515.7L427.9,513.8"/><path d="M461.6,524.8L460.9,535.4"/><path d="M437.3,535.4L436.5,535.7"/><path d="M421.2,513.3L422.8,513.1L424.1,512.6"/></g>
<g fill="#fff" stroke="#585858" stroke-width="0.35">
<path d="M297.2,453.6L295.8,453.0L295.4,451.2L295.3,450.4L296.1,449.4L296.0,448.8L297.1,447.2L298.0,445.4L298.2,445.1L299.2,444.9L300.6,445.7L301.9,445.9L300.8,446.9L302.4,448.3L304.1,447.8L306.0,447.2L307.8,448.0L310.6,449.7L313.6,453.0L311.7,453.9L311.3,453.9L308.4,453.8L306.8,453.4L305.0,452.3L302.2,452.3L300.3,453.4L298.4,453.6Z"/>
<path d="M303.9,446.5L304.6,447.0L306.0,446.9L307.9,445.1L308.8,444.0L306.7,444.3L304.2,445.3Z"/>
<path d="M319.6,447.8L320.9,450.7L322.8,452.6L325.5,454.9L324.8,456.8L324.3,458.1L324.7,459.6L326.9,460.4L329.0,460.9L331.6,460.6L331.3,459.1L330.6,456.7L329.2,455.5L329.5,454.1L328.5,453.4L327.8,452.3L326.0,450.2L324.9,448.3L323.9,448.1L324.8,447.0L327.1,447.0L326.9,444.9L324.2,444.3L322.2,445.1L320.5,445.9L319.7,446.7Z"/>
<path d="M294.3,454.9L295.3,454.1L297.2,453.9L297.7,454.4L296.0,454.9Z"/>
<path d="M141.6,444.8L144.2,444.9L147.3,443.7L149.3,444.8L151.0,445.1L151.4,443.5L150.0,441.8L147.4,442.1L145.1,442.9L142.7,444.0Z"/>
<path d="M143.7,452.8L145.5,452.3L146.9,449.9L147.6,448.0L150.0,446.2L149.6,445.7L146.7,446.4L145.8,448.3L144.3,450.7Z"/>
<path d="M150.5,446.1L152.1,445.7L154.3,446.1L155.5,447.0L155.6,448.3L153.6,447.8L152.9,449.9L151.6,450.7L151.7,449.7L150.8,449.1L151.5,447.5Z"/>
<path d="M149.4,452.8L150.5,453.1L152.6,452.8L155.8,451.3L155.8,450.9L153.8,451.3L150.9,452.2Z"/>
<path d="M155.1,450.2L157.5,450.2L159.8,449.9L160.4,448.8L158.6,449.1L155.9,449.6Z"/>
<path d="M138.3,438.9L140.1,437.2L140.1,433.8L138.4,434.6L138.7,437.2Z"/>
</g>
<circle cx="123.2" cy="457.7" r="11.0" fill="#e2ec60" fill-opacity="0.8" stroke="#8c8f55" stroke-width="0.8"/>
<circle cx="133.2" cy="429.9" r="2.7" fill="#4b4ba2" fill-opacity="0.8" stroke="#3e3e86" stroke-width="0.8"/>
<circle cx="186.5" cy="537.2" r="4.7" fill="#734eb6" fill-opacity="0.8" stroke="#55458a" stroke-width="0.8"/>
<circle cx="288.5" cy="416.8" r="6.1" fill="#9562ca" fill-opacity="0.8" stroke="#4e3a7e" stroke-width="0.8"/>
<circle cx="270.8" cy="430.1" r="4.1" fill="#5f4ebc" fill-opacity="0.8" stroke="#3f3680" stroke-width="0.8"/>
<circle cx="266.2" cy="435.3" r="4.2" fill="#5f4ebc" fill-opacity="0.8" stroke="#3f3680" stroke-width="0.8"/>
<circle cx="273.1" cy="439.6" r="4.0" fill="#5f4ebc" fill-opacity="0.8" stroke="#3f3680" stroke-width="0.8"/>
<circle cx="249.7" cy="435.3" r="2.2" fill="#5f4ebc" fill-opacity="0.8" stroke="#3f3680" stroke-width="0.8"/>
<circle cx="256.5" cy="436.2" r="2.2" fill="#5f4ebc" fill-opacity="0.8" stroke="#3f3680" stroke-width="0.8"/>
<circle cx="262.3" cy="445.5" r="4.0" fill="#5f4ebc" fill-opacity="0.8" stroke="#3f3680" stroke-width="0.8"/>
<circle cx="277.4" cy="443.5" r="2.3" fill="#5f4ebc" fill-opacity="0.8" stroke="#3f3680" stroke-width="0.8"/>
<circle cx="301.2" cy="477.4" r="2.2" fill="#4b4ba8" fill-opacity="0.8" stroke="#3e3e86" stroke-width="0.8"/>
<circle cx="307.2" cy="467.8" r="2.1" fill="#14146e" fill-opacity="0.8" stroke="#25255e" stroke-width="0.8"/>
<circle cx="403.5" cy="465.0" r="8.3" fill="#de7398" fill-opacity="0.8" stroke="#905a74" stroke-width="0.8"/>
<circle cx="431.2" cy="461.7" r="5.5" fill="#8752c0" fill-opacity="0.8" stroke="#54408a" stroke-width="0.8"/>
<circle cx="446.3" cy="460.6" r="2.3" fill="#3737a2" fill-opacity="0.8" stroke="#33337a" stroke-width="0.8"/>
<circle cx="369.7" cy="484.1" r="4.3" fill="#5f4ec6" fill-opacity="0.8" stroke="#4a3f8a" stroke-width="0.8"/>
<circle cx="262.3" cy="503.6" r="2.2" fill="#4b4bac" fill-opacity="0.8" stroke="#3e3e86" stroke-width="0.8"/>
<circle cx="448.0" cy="560.8" r="2.6" fill="#37378e" fill-opacity="0.8" stroke="#33336e" stroke-width="0.8"/>
<path d="M18.8,551.6L20.8,552.4" stroke="#888" stroke-width="0.5"/><circle cx="18.3" cy="562.4" r="0.4" fill="#aaa"/>
<text x="21.00" y="496.70" font-size="7.05" fill="#000" text-anchor="start" font-weight="bold" >Number of studies</text>
<defs><linearGradient id="cb" x1="0" y1="0" x2="0" y2="1">
<stop offset="0" stop-color="#2a3384"/><stop offset="0.2" stop-color="#5a3596"/><stop offset="0.45" stop-color="#b03a90"/>
<stop offset="0.65" stop-color="#e8606a"/><stop offset="0.85" stop-color="#f5a640"/><stop offset="1" stop-color="#e9ec3c"/></linearGradient></defs>
<rect x="21.40" y="502.50" width="6.10" height="103.00" fill="url(#cb)" />
<circle cx="39.8" cy="515.8" r="5.9" fill="#4a3a9c" stroke="#111" stroke-width="1.4"/>
<text x="54.60" y="518.90" font-size="8.6" fill="#111" text-anchor="start" font-weight="normal" >5</text>
<circle cx="39.8" cy="541.6" r="7.1" fill="#8e3a9e" stroke="#111" stroke-width="1.4"/>
<text x="54.60" y="544.70" font-size="8.6" fill="#111" text-anchor="start" font-weight="normal" >10</text>
<circle cx="39.8" cy="567.5" r="8.3" fill="#e8725f" stroke="#111" stroke-width="1.4"/>
<text x="54.60" y="570.60" font-size="8.6" fill="#111" text-anchor="start" font-weight="normal" >15</text>
<circle cx="39.8" cy="593.5" r="9.6" fill="#f2c33c" stroke="#111" stroke-width="1.4"/>
<text x="54.60" y="596.60" font-size="8.6" fill="#111" text-anchor="start" font-weight="normal" >20</text>
</svg></body></html>
